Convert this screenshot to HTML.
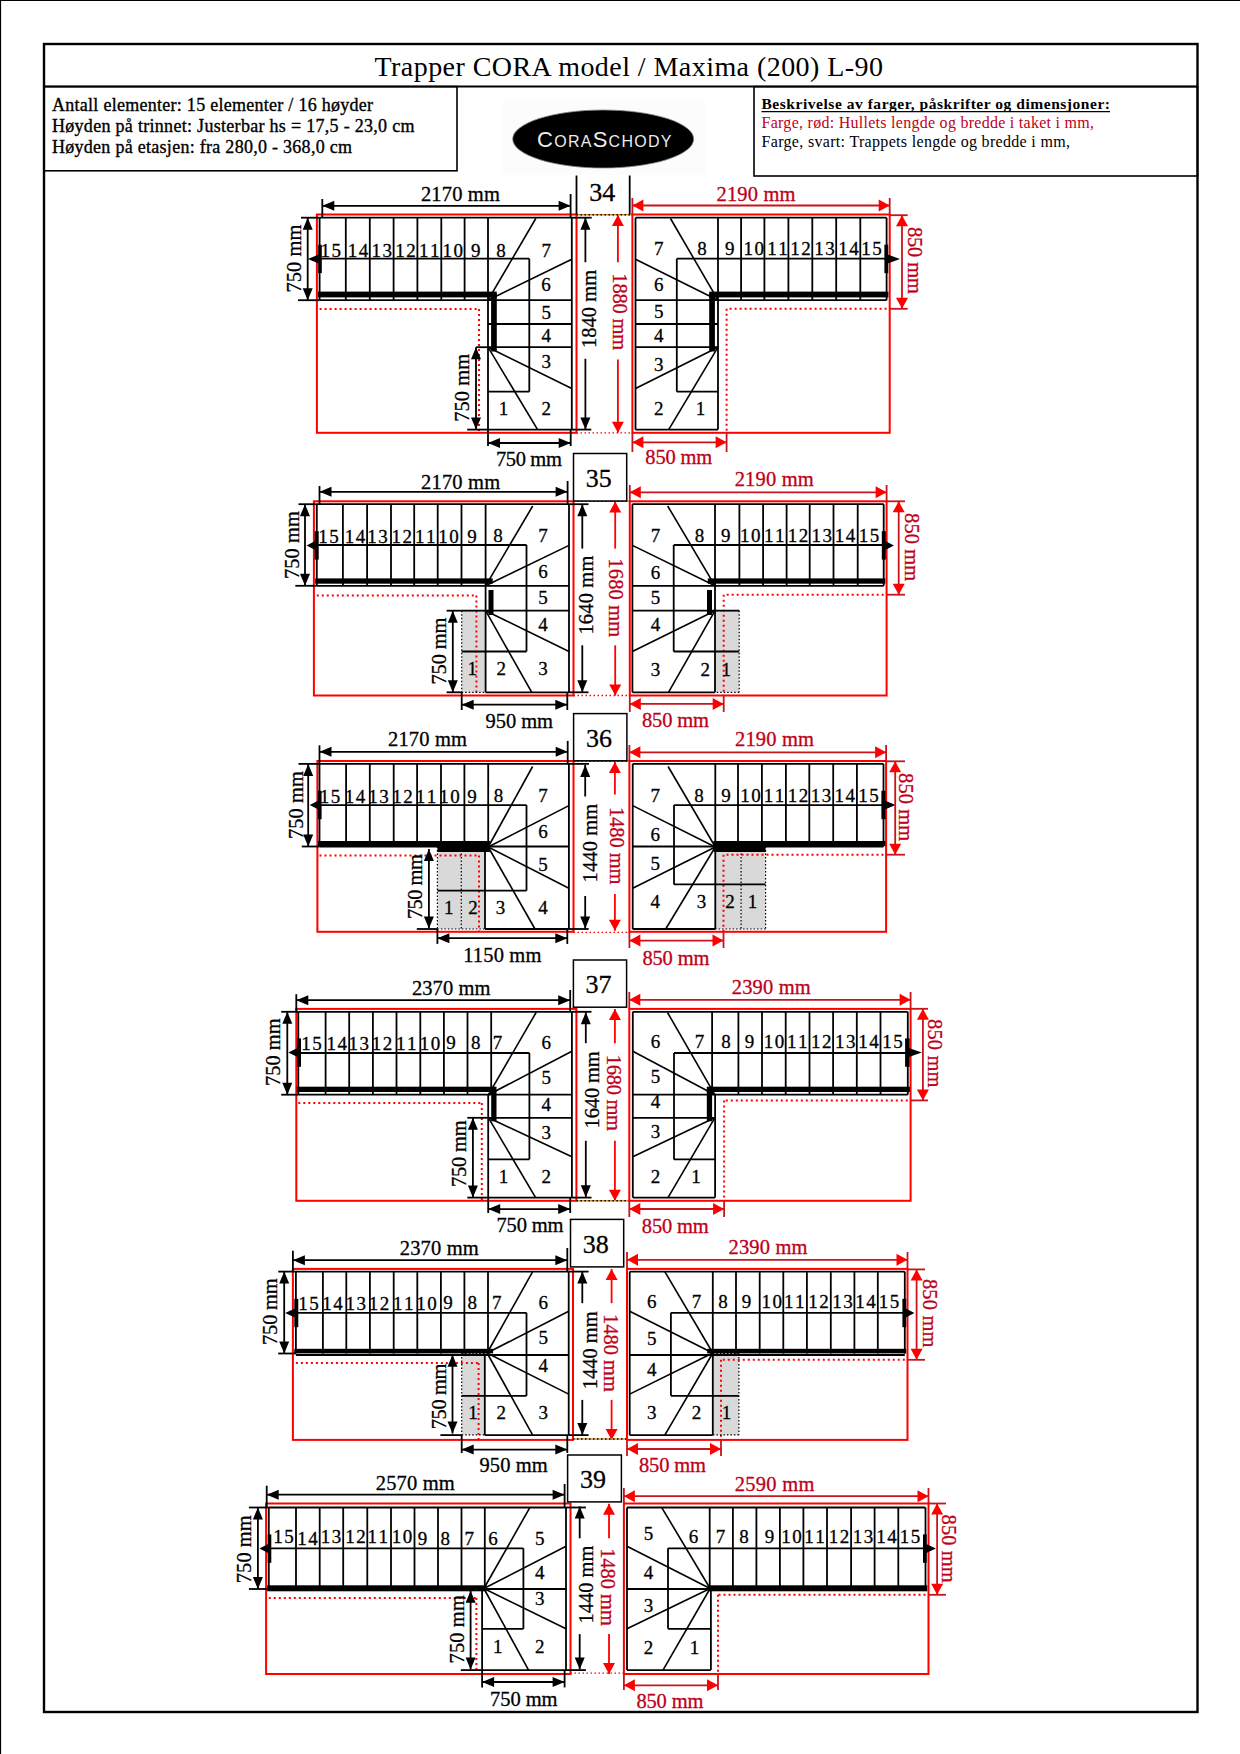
<!DOCTYPE html><html><head><meta charset="utf-8"><style>html,body{margin:0;padding:0;background:#fff}svg{display:block}</style></head><body><svg width="1240" height="1754" viewBox="0 0 1240 1754"><line x1="0.0" y1="0.5" x2="1240.0" y2="0.5" stroke="#000" stroke-width="1.2" stroke-linecap="butt"/>
<line x1="0.5" y1="0.0" x2="0.5" y2="1754.0" stroke="#000" stroke-width="1.2" stroke-linecap="butt"/>
<rect x="44" y="44" width="1153.5" height="1668" fill="none" stroke="#000" stroke-width="2.4"/>
<line x1="44.0" y1="86.6" x2="1197.5" y2="86.6" stroke="#000" stroke-width="2" stroke-linecap="butt"/>
<rect x="44" y="86.6" width="413" height="84.2" fill="none" stroke="#000" stroke-width="1.6"/>
<rect x="754" y="86.6" width="443.5" height="89.4" fill="none" stroke="#000" stroke-width="1.6"/>
<text x="374.5" y="76.0" font-family="Liberation Serif" font-size="28" fill="#000" text-anchor="start" font-weight="normal" textLength="508.5" lengthAdjust="spacing" >Trapper CORA model / Maxima (200) L-90</text>
<text x="52.0" y="110.7" font-family="Liberation Serif" font-size="18" fill="#000" text-anchor="start" font-weight="normal" textLength="321" lengthAdjust="spacing" stroke="#000" stroke-width="0.35">Antall elementer: 15 elementer / 16 høyder</text>
<text x="52.0" y="131.8" font-family="Liberation Serif" font-size="18" fill="#000" text-anchor="start" font-weight="normal" textLength="362.5" lengthAdjust="spacing" stroke="#000" stroke-width="0.35">Høyden på trinnet: Justerbar hs = 17,5 - 23,0 cm</text>
<text x="52.0" y="153.3" font-family="Liberation Serif" font-size="18" fill="#000" text-anchor="start" font-weight="normal" textLength="300" lengthAdjust="spacing" stroke="#000" stroke-width="0.35">Høyden på etasjen: fra 280,0 - 368,0 cm</text>
<text x="761.5" y="108.5" font-family="Liberation Serif" font-size="15.5" fill="#000" text-anchor="start" font-weight="bold" textLength="348.5" lengthAdjust="spacing">Beskrivelse av farger, påskrifter og dimensjoner:</text>
<line x1="761.5" y1="111.6" x2="1110.0" y2="111.6" stroke="#000" stroke-width="1.3" stroke-linecap="butt"/>
<text x="761.5" y="127.6" font-family="Liberation Serif" font-size="16" fill="#c00018" text-anchor="start" font-weight="normal" textLength="332.5" lengthAdjust="spacing" >Farge, rød: Hullets lengde og bredde i taket i mm,</text>
<text x="761.5" y="146.5" font-family="Liberation Serif" font-size="16" fill="#000" text-anchor="start" font-weight="normal" textLength="308.5" lengthAdjust="spacing" >Farge, svart: Trappets lengde og bredde i mm,</text>
<rect x="503" y="100.6" width="203" height="74" fill="#fcfcfc"/>
<ellipse cx="603.2" cy="139" rx="90.5" ry="29" fill="#000" stroke="#888" stroke-width="0.8"/>
<text x="537" y="147" font-family="Liberation Sans" font-size="16" fill="#ececec" text-anchor="start" textLength="134.5" lengthAdjust="spacing"><tspan font-size="22">C</tspan>ORA<tspan font-size="22">S</tspan>CHODY</text>
<rect x="316.9" y="214.5" width="259.6" height="218.3" fill="none" stroke="#ff0000" stroke-width="2"/>
<line x1="319.6" y1="309.0" x2="479.0" y2="309.0" stroke="#ff0000" stroke-width="2" stroke-dasharray="2,3" stroke-linecap="butt"/>
<line x1="479.0" y1="309.0" x2="479.0" y2="432.8" stroke="#ff0000" stroke-width="2" stroke-dasharray="2,3" stroke-linecap="butt"/>
<line x1="319.6" y1="217.7" x2="571.8" y2="217.7" stroke="#000" stroke-width="1.8" stroke-linecap="butt"/>
<line x1="319.6" y1="217.7" x2="319.6" y2="300.2" stroke="#000" stroke-width="1.8" stroke-linecap="butt"/>
<line x1="571.8" y1="217.7" x2="571.8" y2="429.6" stroke="#000" stroke-width="1.8" stroke-linecap="butt"/>
<line x1="319.6" y1="258.7" x2="529.3" y2="258.7" stroke="#000" stroke-width="1.8" stroke-linecap="butt"/>
<line x1="529.3" y1="258.7" x2="529.3" y2="391.7" stroke="#000" stroke-width="1.8" stroke-linecap="butt"/>
<line x1="345.8" y1="217.7" x2="345.8" y2="300.2" stroke="#000" stroke-width="1.8" stroke-linecap="butt"/>
<line x1="369.8" y1="217.7" x2="369.8" y2="300.2" stroke="#000" stroke-width="1.8" stroke-linecap="butt"/>
<line x1="393.6" y1="217.7" x2="393.6" y2="300.2" stroke="#000" stroke-width="1.8" stroke-linecap="butt"/>
<line x1="417.4" y1="217.7" x2="417.4" y2="300.2" stroke="#000" stroke-width="1.8" stroke-linecap="butt"/>
<line x1="441.3" y1="217.7" x2="441.3" y2="300.2" stroke="#000" stroke-width="1.8" stroke-linecap="butt"/>
<line x1="464.6" y1="217.7" x2="464.6" y2="300.2" stroke="#000" stroke-width="1.8" stroke-linecap="butt"/>
<line x1="488.0" y1="217.7" x2="488.0" y2="300.2" stroke="#000" stroke-width="1.8" stroke-linecap="butt"/>
<line x1="488.0" y1="300.2" x2="488.0" y2="429.6" stroke="#000" stroke-width="1.8" stroke-linecap="butt"/>
<line x1="319.6" y1="300.2" x2="571.8" y2="300.2" stroke="#000" stroke-width="1.8" stroke-linecap="butt"/>
<line x1="488.0" y1="324.0" x2="571.8" y2="324.0" stroke="#000" stroke-width="1.8" stroke-linecap="butt"/>
<line x1="488.0" y1="347.2" x2="571.8" y2="347.2" stroke="#000" stroke-width="1.8" stroke-linecap="butt"/>
<line x1="488.0" y1="429.6" x2="571.8" y2="429.6" stroke="#000" stroke-width="1.8" stroke-linecap="butt"/>
<line x1="488.0" y1="391.7" x2="529.3" y2="391.7" stroke="#000" stroke-width="1.8" stroke-linecap="butt"/>
<line x1="488.0" y1="300.2" x2="535.8" y2="218.5" stroke="#000" stroke-width="1.6" stroke-linecap="butt"/>
<line x1="488.0" y1="300.2" x2="571.8" y2="259.3" stroke="#000" stroke-width="1.6" stroke-linecap="butt"/>
<line x1="488.0" y1="347.2" x2="537.6" y2="429.6" stroke="#000" stroke-width="1.6" stroke-linecap="butt"/>
<line x1="488.0" y1="347.2" x2="571.8" y2="388.5" stroke="#000" stroke-width="1.6" stroke-linecap="butt"/>
<rect x="318.0" y="291.6" width="178.8" height="5.8" fill="#000"/>
<rect x="491.1" y="294.0" width="5.7" height="57.5" fill="#000"/>
<rect x="318.2" y="244.7" width="3.6" height="28.4" fill="#000"/>
<polygon points="307.9,258.9 318.7,254.4 318.7,263.4" fill="#000"/>
<text x="330.7" y="256.6" font-family="Liberation Serif" font-size="19" fill="#000" text-anchor="middle" font-weight="normal" textLength="20.5" lengthAdjust="spacing" stroke="#000" stroke-width="0.3">15</text>
<text x="358.0" y="256.6" font-family="Liberation Serif" font-size="19" fill="#000" text-anchor="middle" font-weight="normal" textLength="20.5" lengthAdjust="spacing" stroke="#000" stroke-width="0.3">14</text>
<text x="381.7" y="256.6" font-family="Liberation Serif" font-size="19" fill="#000" text-anchor="middle" font-weight="normal" textLength="20.5" lengthAdjust="spacing" stroke="#000" stroke-width="0.3">13</text>
<text x="405.5" y="256.6" font-family="Liberation Serif" font-size="19" fill="#000" text-anchor="middle" font-weight="normal" textLength="20.5" lengthAdjust="spacing" stroke="#000" stroke-width="0.3">12</text>
<text x="429.3" y="256.6" font-family="Liberation Serif" font-size="19" fill="#000" text-anchor="middle" font-weight="normal" textLength="20.5" lengthAdjust="spacing" stroke="#000" stroke-width="0.3">11</text>
<text x="452.8" y="256.6" font-family="Liberation Serif" font-size="19" fill="#000" text-anchor="middle" font-weight="normal" textLength="20.5" lengthAdjust="spacing" stroke="#000" stroke-width="0.3">10</text>
<text x="475.8" y="256.6" font-family="Liberation Serif" font-size="19" fill="#000" text-anchor="middle" font-weight="normal" stroke="#000" stroke-width="0.3">9</text>
<text x="501.0" y="256.6" font-family="Liberation Serif" font-size="19" fill="#000" text-anchor="middle" font-weight="normal" stroke="#000" stroke-width="0.3">8</text>
<text x="546.3" y="256.6" font-family="Liberation Serif" font-size="19" fill="#000" text-anchor="middle" font-weight="normal" stroke="#000" stroke-width="0.3">7</text>
<text x="546.0" y="291.4" font-family="Liberation Serif" font-size="19" fill="#000" text-anchor="middle" font-weight="normal" stroke="#000" stroke-width="0.3">6</text>
<text x="546.3" y="318.6" font-family="Liberation Serif" font-size="19" fill="#000" text-anchor="middle" font-weight="normal" stroke="#000" stroke-width="0.3">5</text>
<text x="546.3" y="342.4" font-family="Liberation Serif" font-size="19" fill="#000" text-anchor="middle" font-weight="normal" stroke="#000" stroke-width="0.3">4</text>
<text x="546.3" y="368.2" font-family="Liberation Serif" font-size="19" fill="#000" text-anchor="middle" font-weight="normal" stroke="#000" stroke-width="0.3">3</text>
<text x="546.3" y="415.4" font-family="Liberation Serif" font-size="19" fill="#000" text-anchor="middle" font-weight="normal" stroke="#000" stroke-width="0.3">2</text>
<text x="503.5" y="415.4" font-family="Liberation Serif" font-size="19" fill="#000" text-anchor="middle" font-weight="normal" stroke="#000" stroke-width="0.3">1</text>
<line x1="322.3" y1="205.8" x2="570.6" y2="205.8" stroke="#000" stroke-width="1.8" stroke-linecap="butt"/>
<polygon points="322.3,205.8 334.3,200.8 334.3,210.8" fill="#000"/>
<polygon points="570.6,205.8 558.6,200.8 558.6,210.8" fill="#000"/>
<line x1="322.3" y1="199.0" x2="322.3" y2="217.7" stroke="#000" stroke-width="1.8" stroke-linecap="butt"/>
<line x1="570.6" y1="194.0" x2="570.6" y2="217.7" stroke="#000" stroke-width="1.8" stroke-linecap="butt"/>
<text x="460.4" y="200.8" font-family="Liberation Serif" font-size="20.5" fill="#000" text-anchor="middle" font-weight="normal" textLength="79" lengthAdjust="spacing" stroke="#000" stroke-width="0.3">2170 mm</text>
<line x1="307.7" y1="217.7" x2="307.7" y2="300.2" stroke="#000" stroke-width="1.8" stroke-linecap="butt"/>
<polygon points="307.7,217.7 302.7,229.7 312.7,229.7" fill="#000"/>
<polygon points="307.7,300.2 302.7,288.2 312.7,288.2" fill="#000"/>
<line x1="301.0" y1="217.7" x2="319.6" y2="217.7" stroke="#000" stroke-width="1.8" stroke-linecap="butt"/>
<line x1="298.0" y1="300.2" x2="319.6" y2="300.2" stroke="#000" stroke-width="1.8" stroke-linecap="butt"/>
<text transform="translate(301.2,258.5) rotate(-90)" font-family="Liberation Serif" font-size="20.5" fill="#000" text-anchor="middle" font-weight="normal" textLength="68" lengthAdjust="spacing" stroke="#000" stroke-width="0.3">750 mm</text>
<line x1="476.0" y1="347.2" x2="476.0" y2="429.6" stroke="#000" stroke-width="1.8" stroke-linecap="butt"/>
<polygon points="476.0,347.2 471.0,359.2 481.0,359.2" fill="#000"/>
<polygon points="476.0,429.6 471.0,417.6 481.0,417.6" fill="#000"/>
<line x1="476.0" y1="347.2" x2="488.0" y2="347.2" stroke="#000" stroke-width="1.8" stroke-linecap="butt"/>
<line x1="467.2" y1="429.6" x2="488.0" y2="429.6" stroke="#000" stroke-width="1.8" stroke-linecap="butt"/>
<text transform="translate(469.4,387.8) rotate(-90)" font-family="Liberation Serif" font-size="20.5" fill="#000" text-anchor="middle" font-weight="normal" textLength="68" lengthAdjust="spacing" stroke="#000" stroke-width="0.3">750 mm</text>
<line x1="488.0" y1="443.0" x2="570.7" y2="443.0" stroke="#000" stroke-width="1.8" stroke-linecap="butt"/>
<polygon points="488.0,443.0 500.0,438.0 500.0,448.0" fill="#000"/>
<polygon points="570.7,443.0 558.7,438.0 558.7,448.0" fill="#000"/>
<line x1="488.0" y1="430.0" x2="488.0" y2="446.0" stroke="#000" stroke-width="1.8" stroke-linecap="butt"/>
<line x1="570.7" y1="430.0" x2="570.7" y2="446.0" stroke="#000" stroke-width="1.8" stroke-linecap="butt"/>
<text x="528.9" y="466.2" font-family="Liberation Serif" font-size="20.5" fill="#000" text-anchor="middle" font-weight="normal" textLength="66" lengthAdjust="spacing" stroke="#000" stroke-width="0.3">750 mm</text>
<line x1="585.4" y1="217.7" x2="585.4" y2="262.3" stroke="#000" stroke-width="1.8" stroke-linecap="butt"/>
<line x1="585.4" y1="358.8" x2="585.4" y2="429.6" stroke="#000" stroke-width="1.8" stroke-linecap="butt"/>
<polygon points="585.4,217.7 580.4,229.7 590.4,229.7" fill="#000"/>
<polygon points="585.4,429.6 580.4,417.6 590.4,417.6" fill="#000"/>
<line x1="571.8" y1="217.7" x2="591.7" y2="217.7" stroke="#000" stroke-width="1.8" stroke-linecap="butt"/>
<line x1="571.8" y1="429.6" x2="591.3" y2="429.6" stroke="#000" stroke-width="1.8" stroke-linecap="butt"/>
<text transform="translate(596.0,308.9) rotate(-90)" font-family="Liberation Serif" font-size="20.5" fill="#000" text-anchor="middle" font-weight="normal" textLength="78" lengthAdjust="spacing" stroke="#000" stroke-width="0.3">1840 mm</text>
<line x1="617.9" y1="215.0" x2="617.9" y2="262.3" stroke="#ff0000" stroke-width="1.8" stroke-linecap="butt"/>
<line x1="617.9" y1="359.5" x2="617.9" y2="432.8" stroke="#ff0000" stroke-width="1.8" stroke-linecap="butt"/>
<polygon points="617.9,215.0 611.9,226.0 623.9,226.0" fill="#ff0000"/>
<polygon points="617.9,432.8 611.9,421.8 623.9,421.8" fill="#ff0000"/>
<text transform="translate(613.1,311.8) rotate(90)" font-family="Liberation Serif" font-size="20.5" fill="#c00018" text-anchor="middle" font-weight="normal" textLength="77" lengthAdjust="spacing" stroke="#c00018" stroke-width="0.3">1880 mm</text>
<line x1="576.5" y1="175.5" x2="576.5" y2="214.7" stroke="#000" stroke-width="1.8" stroke-linecap="butt"/>
<line x1="629.7" y1="175.5" x2="629.7" y2="214.7" stroke="#000" stroke-width="1.8" stroke-linecap="butt"/>
<text x="602.2" y="200.6" font-family="Liberation Serif" font-size="26" fill="#000" text-anchor="middle" font-weight="normal" stroke="#000" stroke-width="0.3">34</text>
<line x1="576.5" y1="214.7" x2="632.4" y2="214.7" stroke="#d09040" stroke-width="1.6" stroke-linecap="butt"/>
<line x1="576.5" y1="214.7" x2="632.4" y2="214.7" stroke="#000" stroke-width="1.6" stroke-dasharray="1.5,2.5" stroke-linecap="butt"/>
<line x1="576.5" y1="432.8" x2="632.4" y2="432.8" stroke="#ff0000" stroke-width="1.3" stroke-dasharray="1.5,2.5" stroke-linecap="butt"/>
<rect x="632.4" y="214.5" width="257.3" height="218.3" fill="none" stroke="#ff0000" stroke-width="2"/>
<line x1="886.6" y1="308.8" x2="726.6" y2="308.8" stroke="#ff0000" stroke-width="2" stroke-dasharray="2,3" stroke-linecap="butt"/>
<line x1="726.6" y1="308.8" x2="726.6" y2="432.8" stroke="#ff0000" stroke-width="2" stroke-dasharray="2,3" stroke-linecap="butt"/>
<line x1="886.6" y1="217.7" x2="635.5" y2="217.7" stroke="#000" stroke-width="1.8" stroke-linecap="butt"/>
<line x1="886.6" y1="217.7" x2="886.6" y2="300.2" stroke="#000" stroke-width="1.8" stroke-linecap="butt"/>
<line x1="635.5" y1="217.7" x2="635.5" y2="429.6" stroke="#000" stroke-width="1.8" stroke-linecap="butt"/>
<line x1="886.6" y1="258.7" x2="676.8" y2="258.7" stroke="#000" stroke-width="1.8" stroke-linecap="butt"/>
<line x1="676.8" y1="258.7" x2="676.8" y2="391.7" stroke="#000" stroke-width="1.8" stroke-linecap="butt"/>
<line x1="860.3" y1="217.7" x2="860.3" y2="300.2" stroke="#000" stroke-width="1.8" stroke-linecap="butt"/>
<line x1="836.2" y1="217.7" x2="836.2" y2="300.2" stroke="#000" stroke-width="1.8" stroke-linecap="butt"/>
<line x1="812.3" y1="217.7" x2="812.3" y2="300.2" stroke="#000" stroke-width="1.8" stroke-linecap="butt"/>
<line x1="788.4" y1="217.7" x2="788.4" y2="300.2" stroke="#000" stroke-width="1.8" stroke-linecap="butt"/>
<line x1="764.4" y1="217.7" x2="764.4" y2="300.2" stroke="#000" stroke-width="1.8" stroke-linecap="butt"/>
<line x1="741.1" y1="217.7" x2="741.1" y2="300.2" stroke="#000" stroke-width="1.8" stroke-linecap="butt"/>
<line x1="718.0" y1="217.7" x2="718.0" y2="300.2" stroke="#000" stroke-width="1.8" stroke-linecap="butt"/>
<line x1="718.0" y1="300.2" x2="718.0" y2="429.6" stroke="#000" stroke-width="1.8" stroke-linecap="butt"/>
<line x1="886.6" y1="300.2" x2="635.5" y2="300.2" stroke="#000" stroke-width="1.8" stroke-linecap="butt"/>
<line x1="718.0" y1="324.0" x2="635.5" y2="324.0" stroke="#000" stroke-width="1.8" stroke-linecap="butt"/>
<line x1="718.0" y1="347.2" x2="635.5" y2="347.2" stroke="#000" stroke-width="1.8" stroke-linecap="butt"/>
<line x1="718.0" y1="429.6" x2="635.5" y2="429.6" stroke="#000" stroke-width="1.8" stroke-linecap="butt"/>
<line x1="718.0" y1="391.7" x2="676.8" y2="391.7" stroke="#000" stroke-width="1.8" stroke-linecap="butt"/>
<line x1="718.0" y1="300.2" x2="670.5" y2="218.5" stroke="#000" stroke-width="1.6" stroke-linecap="butt"/>
<line x1="718.0" y1="300.2" x2="635.5" y2="259.3" stroke="#000" stroke-width="1.6" stroke-linecap="butt"/>
<line x1="718.0" y1="347.2" x2="668.7" y2="429.6" stroke="#000" stroke-width="1.6" stroke-linecap="butt"/>
<line x1="718.0" y1="347.2" x2="635.5" y2="388.5" stroke="#000" stroke-width="1.6" stroke-linecap="butt"/>
<rect x="709.2" y="291.6" width="179.2" height="5.8" fill="#000"/>
<rect x="709.2" y="294.0" width="5.7" height="57.5" fill="#000"/>
<rect x="884.4" y="244.7" width="3.8" height="28.4" fill="#000"/>
<polygon points="900.0,258.9 887.6,254.4 887.6,263.4" fill="#000"/>
<text x="658.7" y="255.2" font-family="Liberation Serif" font-size="19" fill="#000" text-anchor="middle" font-weight="normal" stroke="#000" stroke-width="0.3">7</text>
<text x="702.1" y="255.2" font-family="Liberation Serif" font-size="19" fill="#000" text-anchor="middle" font-weight="normal" stroke="#000" stroke-width="0.3">8</text>
<text x="729.7" y="255.2" font-family="Liberation Serif" font-size="19" fill="#000" text-anchor="middle" font-weight="normal" stroke="#000" stroke-width="0.3">9</text>
<text x="753.7" y="255.2" font-family="Liberation Serif" font-size="19" fill="#000" text-anchor="middle" font-weight="normal" textLength="20.5" lengthAdjust="spacing" stroke="#000" stroke-width="0.3">10</text>
<text x="777.4" y="255.2" font-family="Liberation Serif" font-size="19" fill="#000" text-anchor="middle" font-weight="normal" textLength="20.5" lengthAdjust="spacing" stroke="#000" stroke-width="0.3">11</text>
<text x="800.6" y="255.2" font-family="Liberation Serif" font-size="19" fill="#000" text-anchor="middle" font-weight="normal" textLength="20.5" lengthAdjust="spacing" stroke="#000" stroke-width="0.3">12</text>
<text x="824.6" y="255.2" font-family="Liberation Serif" font-size="19" fill="#000" text-anchor="middle" font-weight="normal" textLength="20.5" lengthAdjust="spacing" stroke="#000" stroke-width="0.3">13</text>
<text x="848.4" y="255.2" font-family="Liberation Serif" font-size="19" fill="#000" text-anchor="middle" font-weight="normal" textLength="20.5" lengthAdjust="spacing" stroke="#000" stroke-width="0.3">14</text>
<text x="871.6" y="255.2" font-family="Liberation Serif" font-size="19" fill="#000" text-anchor="middle" font-weight="normal" textLength="20.5" lengthAdjust="spacing" stroke="#000" stroke-width="0.3">15</text>
<text x="658.7" y="290.8" font-family="Liberation Serif" font-size="19" fill="#000" text-anchor="middle" font-weight="normal" stroke="#000" stroke-width="0.3">6</text>
<text x="658.7" y="317.6" font-family="Liberation Serif" font-size="19" fill="#000" text-anchor="middle" font-weight="normal" stroke="#000" stroke-width="0.3">5</text>
<text x="658.7" y="341.6" font-family="Liberation Serif" font-size="19" fill="#000" text-anchor="middle" font-weight="normal" stroke="#000" stroke-width="0.3">4</text>
<text x="658.7" y="370.8" font-family="Liberation Serif" font-size="19" fill="#000" text-anchor="middle" font-weight="normal" stroke="#000" stroke-width="0.3">3</text>
<text x="658.7" y="414.6" font-family="Liberation Serif" font-size="19" fill="#000" text-anchor="middle" font-weight="normal" stroke="#000" stroke-width="0.3">2</text>
<text x="700.5" y="414.6" font-family="Liberation Serif" font-size="19" fill="#000" text-anchor="middle" font-weight="normal" stroke="#000" stroke-width="0.3">1</text>
<line x1="632.4" y1="205.5" x2="889.7" y2="205.5" stroke="#c8141e" stroke-width="1.8" stroke-linecap="butt"/>
<polygon points="632.4,205.5 643.4,199.5 643.4,211.5" fill="#ff0000"/>
<polygon points="889.7,205.5 878.7,199.5 878.7,211.5" fill="#ff0000"/>
<line x1="632.4" y1="198.0" x2="632.4" y2="215.2" stroke="#c8141e" stroke-width="1.8" stroke-linecap="butt"/>
<line x1="889.7" y1="198.0" x2="889.7" y2="215.2" stroke="#c8141e" stroke-width="1.8" stroke-linecap="butt"/>
<text x="756.0" y="201.0" font-family="Liberation Serif" font-size="20.5" fill="#c00018" text-anchor="middle" font-weight="normal" textLength="79" lengthAdjust="spacing" stroke="#c00018" stroke-width="0.3">2190 mm</text>
<line x1="902.0" y1="215.2" x2="902.0" y2="308.8" stroke="#c8141e" stroke-width="1.8" stroke-linecap="butt"/>
<polygon points="902.0,215.2 896.0,226.2 908.0,226.2" fill="#ff0000"/>
<polygon points="902.0,308.8 896.0,297.8 908.0,297.8" fill="#ff0000"/>
<line x1="889.7" y1="215.2" x2="907.7" y2="215.2" stroke="#c8141e" stroke-width="1.8" stroke-linecap="butt"/>
<line x1="889.7" y1="308.8" x2="907.7" y2="308.8" stroke="#c8141e" stroke-width="1.8" stroke-linecap="butt"/>
<text transform="translate(907.7,260.4) rotate(90)" font-family="Liberation Serif" font-size="20.5" fill="#c00018" text-anchor="middle" font-weight="normal" textLength="67" lengthAdjust="spacing" stroke="#c00018" stroke-width="0.3">850 mm</text>
<line x1="632.4" y1="442.3" x2="726.6" y2="442.3" stroke="#c8141e" stroke-width="1.8" stroke-linecap="butt"/>
<polygon points="632.4,442.3 643.4,436.3 643.4,448.3" fill="#ff0000"/>
<polygon points="726.6,442.3 715.6,436.3 715.6,448.3" fill="#ff0000"/>
<line x1="632.4" y1="432.7" x2="632.4" y2="452.0" stroke="#c8141e" stroke-width="1.8" stroke-linecap="butt"/>
<line x1="726.6" y1="432.7" x2="726.6" y2="452.0" stroke="#c8141e" stroke-width="1.8" stroke-linecap="butt"/>
<text x="678.8" y="464.2" font-family="Liberation Serif" font-size="20.5" fill="#c00018" text-anchor="middle" font-weight="normal" textLength="67" lengthAdjust="spacing" stroke="#c00018" stroke-width="0.3">850 mm</text>
<rect x="461.7" y="610.7" width="23.9" height="81.6" fill="#d9d9d9"/>
<rect x="313.9" y="501.3" width="259.6" height="194.2" fill="none" stroke="#ff0000" stroke-width="2"/>
<line x1="316.8" y1="595.5" x2="476.4" y2="595.5" stroke="#ff0000" stroke-width="2" stroke-dasharray="2,3" stroke-linecap="butt"/>
<line x1="476.4" y1="595.5" x2="476.4" y2="695.5" stroke="#ff0000" stroke-width="2" stroke-dasharray="2,3" stroke-linecap="butt"/>
<line x1="316.8" y1="504.2" x2="569.0" y2="504.2" stroke="#000" stroke-width="1.8" stroke-linecap="butt"/>
<line x1="316.8" y1="504.2" x2="316.8" y2="585.8" stroke="#000" stroke-width="1.8" stroke-linecap="butt"/>
<line x1="569.0" y1="504.2" x2="569.0" y2="692.3" stroke="#000" stroke-width="1.8" stroke-linecap="butt"/>
<line x1="316.8" y1="545.0" x2="526.5" y2="545.0" stroke="#000" stroke-width="1.8" stroke-linecap="butt"/>
<line x1="526.5" y1="545.0" x2="526.5" y2="651.5" stroke="#000" stroke-width="1.8" stroke-linecap="butt"/>
<line x1="342.9" y1="504.2" x2="342.9" y2="585.8" stroke="#000" stroke-width="1.8" stroke-linecap="butt"/>
<line x1="367.1" y1="504.2" x2="367.1" y2="585.8" stroke="#000" stroke-width="1.8" stroke-linecap="butt"/>
<line x1="391.0" y1="504.2" x2="391.0" y2="585.8" stroke="#000" stroke-width="1.8" stroke-linecap="butt"/>
<line x1="414.2" y1="504.2" x2="414.2" y2="585.8" stroke="#000" stroke-width="1.8" stroke-linecap="butt"/>
<line x1="437.7" y1="504.2" x2="437.7" y2="585.8" stroke="#000" stroke-width="1.8" stroke-linecap="butt"/>
<line x1="461.5" y1="504.2" x2="461.5" y2="585.8" stroke="#000" stroke-width="1.8" stroke-linecap="butt"/>
<line x1="485.6" y1="504.2" x2="485.6" y2="585.8" stroke="#000" stroke-width="1.8" stroke-linecap="butt"/>
<line x1="485.6" y1="585.8" x2="485.6" y2="692.3" stroke="#000" stroke-width="1.8" stroke-linecap="butt"/>
<line x1="316.8" y1="585.8" x2="569.0" y2="585.8" stroke="#000" stroke-width="1.8" stroke-linecap="butt"/>
<line x1="461.7" y1="610.7" x2="569.0" y2="610.7" stroke="#000" stroke-width="1.8" stroke-linecap="butt"/>
<line x1="485.6" y1="692.3" x2="569.0" y2="692.3" stroke="#000" stroke-width="1.8" stroke-linecap="butt"/>
<line x1="461.7" y1="651.5" x2="526.5" y2="651.5" stroke="#000" stroke-width="1.8" stroke-linecap="butt"/>
<line x1="485.6" y1="585.8" x2="532.7" y2="506.0" stroke="#000" stroke-width="1.6" stroke-linecap="butt"/>
<line x1="485.6" y1="585.8" x2="569.0" y2="545.4" stroke="#000" stroke-width="1.6" stroke-linecap="butt"/>
<line x1="485.6" y1="610.7" x2="531.8" y2="692.3" stroke="#000" stroke-width="1.6" stroke-linecap="butt"/>
<line x1="485.6" y1="610.7" x2="569.0" y2="651.5" stroke="#000" stroke-width="1.6" stroke-linecap="butt"/>
<line x1="461.7" y1="610.7" x2="485.6" y2="610.7" stroke="#000" stroke-width="1.2" stroke-dasharray="1.5,2" stroke-linecap="butt"/>
<line x1="461.7" y1="692.3" x2="485.6" y2="692.3" stroke="#000" stroke-width="1.2" stroke-dasharray="1.5,2" stroke-linecap="butt"/>
<line x1="461.7" y1="610.7" x2="461.7" y2="692.3" stroke="#000" stroke-width="1.2" stroke-dasharray="1.5,2" stroke-linecap="butt"/>
<rect x="315.2" y="578.4" width="177.5" height="5.3" fill="#000"/>
<rect x="488.5" y="590.0" width="5.0" height="25.0" fill="#000"/>
<rect x="314.7" y="531.2" width="4.0" height="28.4" fill="#000"/>
<polygon points="306.6,545.4 315.2,540.9 315.2,549.9" fill="#000"/>
<text x="328.4" y="542.6" font-family="Liberation Serif" font-size="19" fill="#000" text-anchor="middle" font-weight="normal" textLength="20.5" lengthAdjust="spacing" stroke="#000" stroke-width="0.3">15</text>
<text x="355.0" y="542.6" font-family="Liberation Serif" font-size="19" fill="#000" text-anchor="middle" font-weight="normal" textLength="20.5" lengthAdjust="spacing" stroke="#000" stroke-width="0.3">14</text>
<text x="377.6" y="542.6" font-family="Liberation Serif" font-size="19" fill="#000" text-anchor="middle" font-weight="normal" textLength="20.5" lengthAdjust="spacing" stroke="#000" stroke-width="0.3">13</text>
<text x="401.8" y="542.6" font-family="Liberation Serif" font-size="19" fill="#000" text-anchor="middle" font-weight="normal" textLength="20.5" lengthAdjust="spacing" stroke="#000" stroke-width="0.3">12</text>
<text x="425.2" y="542.6" font-family="Liberation Serif" font-size="19" fill="#000" text-anchor="middle" font-weight="normal" textLength="20.5" lengthAdjust="spacing" stroke="#000" stroke-width="0.3">11</text>
<text x="448.5" y="542.6" font-family="Liberation Serif" font-size="19" fill="#000" text-anchor="middle" font-weight="normal" textLength="20.5" lengthAdjust="spacing" stroke="#000" stroke-width="0.3">10</text>
<text x="472.0" y="542.6" font-family="Liberation Serif" font-size="19" fill="#000" text-anchor="middle" font-weight="normal" stroke="#000" stroke-width="0.3">9</text>
<text x="498.1" y="542.3" font-family="Liberation Serif" font-size="19" fill="#000" text-anchor="middle" font-weight="normal" stroke="#000" stroke-width="0.3">8</text>
<text x="543.0" y="542.3" font-family="Liberation Serif" font-size="19" fill="#000" text-anchor="middle" font-weight="normal" stroke="#000" stroke-width="0.3">7</text>
<text x="543.0" y="577.8" font-family="Liberation Serif" font-size="19" fill="#000" text-anchor="middle" font-weight="normal" stroke="#000" stroke-width="0.3">6</text>
<text x="543.0" y="603.6" font-family="Liberation Serif" font-size="19" fill="#000" text-anchor="middle" font-weight="normal" stroke="#000" stroke-width="0.3">5</text>
<text x="543.0" y="631.0" font-family="Liberation Serif" font-size="19" fill="#000" text-anchor="middle" font-weight="normal" stroke="#000" stroke-width="0.3">4</text>
<text x="543.0" y="674.5" font-family="Liberation Serif" font-size="19" fill="#000" text-anchor="middle" font-weight="normal" stroke="#000" stroke-width="0.3">3</text>
<text x="501.3" y="674.5" font-family="Liberation Serif" font-size="19" fill="#000" text-anchor="middle" font-weight="normal" stroke="#000" stroke-width="0.3">2</text>
<text x="472.3" y="674.5" font-family="Liberation Serif" font-size="19" fill="#000" text-anchor="middle" font-weight="normal" stroke="#000" stroke-width="0.3">1</text>
<line x1="319.5" y1="491.8" x2="567.6" y2="491.8" stroke="#000" stroke-width="1.8" stroke-linecap="butt"/>
<polygon points="319.5,491.8 331.5,486.8 331.5,496.8" fill="#000"/>
<polygon points="567.6,491.8 555.6,486.8 555.6,496.8" fill="#000"/>
<line x1="319.5" y1="486.0" x2="319.5" y2="504.2" stroke="#000" stroke-width="1.8" stroke-linecap="butt"/>
<line x1="567.6" y1="481.0" x2="567.6" y2="504.2" stroke="#000" stroke-width="1.8" stroke-linecap="butt"/>
<text x="460.6" y="489.4" font-family="Liberation Serif" font-size="20.5" fill="#000" text-anchor="middle" font-weight="normal" textLength="79" lengthAdjust="spacing" stroke="#000" stroke-width="0.3">2170 mm</text>
<line x1="305.0" y1="504.2" x2="305.0" y2="585.8" stroke="#000" stroke-width="1.8" stroke-linecap="butt"/>
<polygon points="305.0,504.2 300.0,516.2 310.0,516.2" fill="#000"/>
<polygon points="305.0,585.8 300.0,573.8 310.0,573.8" fill="#000"/>
<line x1="298.5" y1="504.2" x2="316.8" y2="504.2" stroke="#000" stroke-width="1.8" stroke-linecap="butt"/>
<line x1="295.3" y1="585.8" x2="316.8" y2="585.8" stroke="#000" stroke-width="1.8" stroke-linecap="butt"/>
<text transform="translate(298.5,545.0) rotate(-90)" font-family="Liberation Serif" font-size="20.5" fill="#000" text-anchor="middle" font-weight="normal" textLength="68" lengthAdjust="spacing" stroke="#000" stroke-width="0.3">750 mm</text>
<line x1="452.8" y1="610.7" x2="452.8" y2="692.3" stroke="#000" stroke-width="1.8" stroke-linecap="butt"/>
<polygon points="452.8,610.7 447.8,622.7 457.8,622.7" fill="#000"/>
<polygon points="452.8,692.3 447.8,680.3 457.8,680.3" fill="#000"/>
<line x1="446.6" y1="610.7" x2="461.7" y2="610.7" stroke="#000" stroke-width="1.8" stroke-linecap="butt"/>
<line x1="446.6" y1="692.3" x2="461.7" y2="692.3" stroke="#000" stroke-width="1.8" stroke-linecap="butt"/>
<text transform="translate(445.7,651.0) rotate(-90)" font-family="Liberation Serif" font-size="20.5" fill="#000" text-anchor="middle" font-weight="normal" textLength="67" lengthAdjust="spacing" stroke="#000" stroke-width="0.3">750 mm</text>
<line x1="461.7" y1="704.7" x2="567.3" y2="704.7" stroke="#000" stroke-width="1.8" stroke-linecap="butt"/>
<polygon points="461.7,704.7 473.7,699.7 473.7,709.7" fill="#000"/>
<polygon points="567.3,704.7 555.3,699.7 555.3,709.7" fill="#000"/>
<line x1="461.7" y1="692.3" x2="461.7" y2="710.0" stroke="#000" stroke-width="1.8" stroke-linecap="butt"/>
<line x1="567.3" y1="692.3" x2="567.3" y2="710.0" stroke="#000" stroke-width="1.8" stroke-linecap="butt"/>
<text x="519.3" y="727.8" font-family="Liberation Serif" font-size="20.5" fill="#000" text-anchor="middle" font-weight="normal" textLength="67.4" lengthAdjust="spacing" stroke="#000" stroke-width="0.3">950 mm</text>
<line x1="582.3" y1="504.2" x2="582.3" y2="548.6" stroke="#000" stroke-width="1.8" stroke-linecap="butt"/>
<line x1="582.3" y1="645.3" x2="582.3" y2="692.3" stroke="#000" stroke-width="1.8" stroke-linecap="butt"/>
<polygon points="582.3,504.2 577.3,516.2 587.3,516.2" fill="#000"/>
<polygon points="582.3,692.3 577.3,680.3 587.3,680.3" fill="#000"/>
<line x1="569.0" y1="504.2" x2="588.5" y2="504.2" stroke="#000" stroke-width="1.8" stroke-linecap="butt"/>
<line x1="569.0" y1="692.3" x2="588.5" y2="692.3" stroke="#000" stroke-width="1.8" stroke-linecap="butt"/>
<text transform="translate(593.0,595.1) rotate(-90)" font-family="Liberation Serif" font-size="20.5" fill="#000" text-anchor="middle" font-weight="normal" textLength="79" lengthAdjust="spacing" stroke="#000" stroke-width="0.3">1640 mm</text>
<line x1="615.2" y1="501.5" x2="615.2" y2="548.6" stroke="#ff0000" stroke-width="1.8" stroke-linecap="butt"/>
<line x1="615.2" y1="645.3" x2="615.2" y2="695.5" stroke="#ff0000" stroke-width="1.8" stroke-linecap="butt"/>
<polygon points="615.2,501.5 609.2,512.5 621.2,512.5" fill="#ff0000"/>
<polygon points="615.2,695.5 609.2,684.5 621.2,684.5" fill="#ff0000"/>
<text transform="translate(609.0,597.8) rotate(90)" font-family="Liberation Serif" font-size="20.5" fill="#c00018" text-anchor="middle" font-weight="normal" textLength="79" lengthAdjust="spacing" stroke="#c00018" stroke-width="0.3">1680 mm</text>
<line x1="573.5" y1="501.0" x2="630.0" y2="501.0" stroke="#d09040" stroke-width="1.6" stroke-linecap="butt"/>
<line x1="573.5" y1="501.0" x2="630.0" y2="501.0" stroke="#000" stroke-width="1.6" stroke-dasharray="1.5,2.5" stroke-linecap="butt"/>
<rect x="573.5" y="453.5" width="53.2" height="47.5" fill="#fff" stroke="#000" stroke-width="1.5"/>
<text x="598.8" y="487.2" font-family="Liberation Serif" font-size="26" fill="#000" text-anchor="middle" font-weight="normal" stroke="#000" stroke-width="0.3">35</text>
<line x1="573.5" y1="695.5" x2="630.0" y2="695.5" stroke="#ff0000" stroke-width="1.3" stroke-dasharray="1.5,2.5" stroke-linecap="butt"/>
<rect x="715.0" y="610.7" width="24.2" height="81.6" fill="#d9d9d9"/>
<rect x="629.8" y="501.3" width="256.8" height="194.2" fill="none" stroke="#ff0000" stroke-width="2"/>
<line x1="883.7" y1="594.7" x2="723.7" y2="594.7" stroke="#ff0000" stroke-width="2" stroke-dasharray="2,3" stroke-linecap="butt"/>
<line x1="723.7" y1="594.7" x2="723.7" y2="695.5" stroke="#ff0000" stroke-width="2" stroke-dasharray="2,3" stroke-linecap="butt"/>
<line x1="883.7" y1="504.2" x2="632.4" y2="504.2" stroke="#000" stroke-width="1.8" stroke-linecap="butt"/>
<line x1="883.7" y1="504.2" x2="883.7" y2="585.8" stroke="#000" stroke-width="1.8" stroke-linecap="butt"/>
<line x1="632.4" y1="504.2" x2="632.4" y2="692.3" stroke="#000" stroke-width="1.8" stroke-linecap="butt"/>
<line x1="883.7" y1="545.0" x2="673.7" y2="545.0" stroke="#000" stroke-width="1.8" stroke-linecap="butt"/>
<line x1="673.7" y1="545.0" x2="673.7" y2="651.5" stroke="#000" stroke-width="1.8" stroke-linecap="butt"/>
<line x1="857.7" y1="504.2" x2="857.7" y2="585.8" stroke="#000" stroke-width="1.8" stroke-linecap="butt"/>
<line x1="833.5" y1="504.2" x2="833.5" y2="585.8" stroke="#000" stroke-width="1.8" stroke-linecap="butt"/>
<line x1="809.7" y1="504.2" x2="809.7" y2="585.8" stroke="#000" stroke-width="1.8" stroke-linecap="butt"/>
<line x1="786.6" y1="504.2" x2="786.6" y2="585.8" stroke="#000" stroke-width="1.8" stroke-linecap="butt"/>
<line x1="763.1" y1="504.2" x2="763.1" y2="585.8" stroke="#000" stroke-width="1.8" stroke-linecap="butt"/>
<line x1="739.4" y1="504.2" x2="739.4" y2="585.8" stroke="#000" stroke-width="1.8" stroke-linecap="butt"/>
<line x1="715.0" y1="504.2" x2="715.0" y2="585.8" stroke="#000" stroke-width="1.8" stroke-linecap="butt"/>
<line x1="715.0" y1="585.8" x2="715.0" y2="692.3" stroke="#000" stroke-width="1.8" stroke-linecap="butt"/>
<line x1="883.7" y1="585.8" x2="632.4" y2="585.8" stroke="#000" stroke-width="1.8" stroke-linecap="butt"/>
<line x1="739.2" y1="610.7" x2="632.4" y2="610.7" stroke="#000" stroke-width="1.8" stroke-linecap="butt"/>
<line x1="715.0" y1="692.3" x2="632.4" y2="692.3" stroke="#000" stroke-width="1.8" stroke-linecap="butt"/>
<line x1="739.2" y1="651.5" x2="673.7" y2="651.5" stroke="#000" stroke-width="1.8" stroke-linecap="butt"/>
<line x1="715.0" y1="585.8" x2="667.7" y2="506.0" stroke="#000" stroke-width="1.6" stroke-linecap="butt"/>
<line x1="715.0" y1="585.8" x2="632.4" y2="545.4" stroke="#000" stroke-width="1.6" stroke-linecap="butt"/>
<line x1="715.0" y1="610.7" x2="668.5" y2="692.3" stroke="#000" stroke-width="1.6" stroke-linecap="butt"/>
<line x1="715.0" y1="610.7" x2="632.4" y2="651.5" stroke="#000" stroke-width="1.6" stroke-linecap="butt"/>
<line x1="739.2" y1="610.7" x2="715.0" y2="610.7" stroke="#000" stroke-width="1.2" stroke-dasharray="1.5,2" stroke-linecap="butt"/>
<line x1="739.2" y1="692.3" x2="715.0" y2="692.3" stroke="#000" stroke-width="1.2" stroke-dasharray="1.5,2" stroke-linecap="butt"/>
<line x1="739.2" y1="610.7" x2="739.2" y2="692.3" stroke="#000" stroke-width="1.2" stroke-dasharray="1.5,2" stroke-linecap="butt"/>
<rect x="707.8" y="578.4" width="177.5" height="5.3" fill="#000"/>
<rect x="707.0" y="590.0" width="5.0" height="25.0" fill="#000"/>
<rect x="881.8" y="531.2" width="4.0" height="28.4" fill="#000"/>
<polygon points="893.9,545.4 885.3,540.9 885.3,549.9" fill="#000"/>
<text x="655.6" y="542.1" font-family="Liberation Serif" font-size="19" fill="#000" text-anchor="middle" font-weight="normal" stroke="#000" stroke-width="0.3">7</text>
<text x="699.5" y="542.1" font-family="Liberation Serif" font-size="19" fill="#000" text-anchor="middle" font-weight="normal" stroke="#000" stroke-width="0.3">8</text>
<text x="725.8" y="542.1" font-family="Liberation Serif" font-size="19" fill="#000" text-anchor="middle" font-weight="normal" stroke="#000" stroke-width="0.3">9</text>
<text x="750.3" y="542.1" font-family="Liberation Serif" font-size="19" fill="#000" text-anchor="middle" font-weight="normal" textLength="20.5" lengthAdjust="spacing" stroke="#000" stroke-width="0.3">10</text>
<text x="774.3" y="542.1" font-family="Liberation Serif" font-size="19" fill="#000" text-anchor="middle" font-weight="normal" textLength="20.5" lengthAdjust="spacing" stroke="#000" stroke-width="0.3">11</text>
<text x="798.1" y="542.1" font-family="Liberation Serif" font-size="19" fill="#000" text-anchor="middle" font-weight="normal" textLength="20.5" lengthAdjust="spacing" stroke="#000" stroke-width="0.3">12</text>
<text x="821.8" y="542.1" font-family="Liberation Serif" font-size="19" fill="#000" text-anchor="middle" font-weight="normal" textLength="20.5" lengthAdjust="spacing" stroke="#000" stroke-width="0.3">13</text>
<text x="845.0" y="542.1" font-family="Liberation Serif" font-size="19" fill="#000" text-anchor="middle" font-weight="normal" textLength="20.5" lengthAdjust="spacing" stroke="#000" stroke-width="0.3">14</text>
<text x="869.0" y="542.1" font-family="Liberation Serif" font-size="19" fill="#000" text-anchor="middle" font-weight="normal" textLength="20.5" lengthAdjust="spacing" stroke="#000" stroke-width="0.3">15</text>
<text x="655.6" y="578.7" font-family="Liberation Serif" font-size="19" fill="#000" text-anchor="middle" font-weight="normal" stroke="#000" stroke-width="0.3">6</text>
<text x="655.6" y="604.0" font-family="Liberation Serif" font-size="19" fill="#000" text-anchor="middle" font-weight="normal" stroke="#000" stroke-width="0.3">5</text>
<text x="655.6" y="630.8" font-family="Liberation Serif" font-size="19" fill="#000" text-anchor="middle" font-weight="normal" stroke="#000" stroke-width="0.3">4</text>
<text x="655.6" y="675.5" font-family="Liberation Serif" font-size="19" fill="#000" text-anchor="middle" font-weight="normal" stroke="#000" stroke-width="0.3">3</text>
<text x="705.2" y="675.5" font-family="Liberation Serif" font-size="19" fill="#000" text-anchor="middle" font-weight="normal" stroke="#000" stroke-width="0.3">2</text>
<text x="726.3" y="675.5" font-family="Liberation Serif" font-size="19" fill="#000" text-anchor="middle" font-weight="normal" stroke="#000" stroke-width="0.3">1</text>
<line x1="629.8" y1="492.3" x2="886.6" y2="492.3" stroke="#c8141e" stroke-width="1.8" stroke-linecap="butt"/>
<polygon points="629.8,492.3 640.8,486.3 640.8,498.3" fill="#ff0000"/>
<polygon points="886.6,492.3 875.6,486.3 875.6,498.3" fill="#ff0000"/>
<line x1="629.8" y1="485.0" x2="629.8" y2="501.3" stroke="#c8141e" stroke-width="1.8" stroke-linecap="butt"/>
<line x1="886.6" y1="485.0" x2="886.6" y2="501.3" stroke="#c8141e" stroke-width="1.8" stroke-linecap="butt"/>
<text x="774.2" y="486.3" font-family="Liberation Serif" font-size="20.5" fill="#c00018" text-anchor="middle" font-weight="normal" textLength="79" lengthAdjust="spacing" stroke="#c00018" stroke-width="0.3">2190 mm</text>
<line x1="898.7" y1="501.3" x2="898.7" y2="594.7" stroke="#c8141e" stroke-width="1.8" stroke-linecap="butt"/>
<polygon points="898.7,501.3 892.7,512.3 904.7,512.3" fill="#ff0000"/>
<polygon points="898.7,594.7 892.7,583.7 904.7,583.7" fill="#ff0000"/>
<line x1="886.6" y1="501.3" x2="905.0" y2="501.3" stroke="#c8141e" stroke-width="1.8" stroke-linecap="butt"/>
<line x1="886.6" y1="594.7" x2="905.0" y2="594.7" stroke="#c8141e" stroke-width="1.8" stroke-linecap="butt"/>
<text transform="translate(905.2,547.1) rotate(90)" font-family="Liberation Serif" font-size="20.5" fill="#c00018" text-anchor="middle" font-weight="normal" textLength="68" lengthAdjust="spacing" stroke="#c00018" stroke-width="0.3">850 mm</text>
<line x1="629.8" y1="703.9" x2="723.7" y2="703.9" stroke="#c8141e" stroke-width="1.8" stroke-linecap="butt"/>
<polygon points="629.8,703.9 640.8,697.9 640.8,709.9" fill="#ff0000"/>
<polygon points="723.7,703.9 712.7,697.9 712.7,709.9" fill="#ff0000"/>
<line x1="629.8" y1="695.4" x2="629.8" y2="712.0" stroke="#c8141e" stroke-width="1.8" stroke-linecap="butt"/>
<line x1="723.7" y1="695.4" x2="723.7" y2="712.0" stroke="#c8141e" stroke-width="1.8" stroke-linecap="butt"/>
<text x="675.5" y="727.0" font-family="Liberation Serif" font-size="20.5" fill="#c00018" text-anchor="middle" font-weight="normal" textLength="67" lengthAdjust="spacing" stroke="#c00018" stroke-width="0.3">850 mm</text>
<rect x="437.4" y="846.5" width="47.6" height="82.5" fill="#d9d9d9"/>
<rect x="317.4" y="761.0" width="256.1" height="170.8" fill="none" stroke="#ff0000" stroke-width="2"/>
<line x1="319.5" y1="855.5" x2="479.0" y2="855.5" stroke="#ff0000" stroke-width="2" stroke-dasharray="2,3" stroke-linecap="butt"/>
<line x1="479.0" y1="855.5" x2="479.0" y2="931.8" stroke="#ff0000" stroke-width="2" stroke-dasharray="2,3" stroke-linecap="butt"/>
<line x1="319.5" y1="763.9" x2="568.9" y2="763.9" stroke="#000" stroke-width="1.8" stroke-linecap="butt"/>
<line x1="319.5" y1="763.9" x2="319.5" y2="846.5" stroke="#000" stroke-width="1.8" stroke-linecap="butt"/>
<line x1="568.9" y1="763.9" x2="568.9" y2="929.0" stroke="#000" stroke-width="1.8" stroke-linecap="butt"/>
<line x1="319.5" y1="805.1" x2="526.5" y2="805.1" stroke="#000" stroke-width="1.8" stroke-linecap="butt"/>
<line x1="526.5" y1="805.1" x2="526.5" y2="890.6" stroke="#000" stroke-width="1.8" stroke-linecap="butt"/>
<line x1="346.1" y1="763.9" x2="346.1" y2="846.5" stroke="#000" stroke-width="1.8" stroke-linecap="butt"/>
<line x1="369.8" y1="763.9" x2="369.8" y2="846.5" stroke="#000" stroke-width="1.8" stroke-linecap="butt"/>
<line x1="393.7" y1="763.9" x2="393.7" y2="846.5" stroke="#000" stroke-width="1.8" stroke-linecap="butt"/>
<line x1="417.1" y1="763.9" x2="417.1" y2="846.5" stroke="#000" stroke-width="1.8" stroke-linecap="butt"/>
<line x1="441.0" y1="763.9" x2="441.0" y2="846.5" stroke="#000" stroke-width="1.8" stroke-linecap="butt"/>
<line x1="464.4" y1="763.9" x2="464.4" y2="846.5" stroke="#000" stroke-width="1.8" stroke-linecap="butt"/>
<line x1="488.2" y1="763.9" x2="488.2" y2="846.5" stroke="#000" stroke-width="1.8" stroke-linecap="butt"/>
<line x1="485.0" y1="846.5" x2="485.0" y2="929.0" stroke="#000" stroke-width="1.8" stroke-linecap="butt"/>
<line x1="319.5" y1="846.5" x2="568.9" y2="846.5" stroke="#000" stroke-width="1.8" stroke-linecap="butt"/>
<line x1="485.0" y1="929.0" x2="568.9" y2="929.0" stroke="#000" stroke-width="1.8" stroke-linecap="butt"/>
<line x1="437.4" y1="890.6" x2="526.5" y2="890.6" stroke="#000" stroke-width="1.8" stroke-linecap="butt"/>
<line x1="488.2" y1="847.0" x2="532.6" y2="766.5" stroke="#000" stroke-width="1.6" stroke-linecap="butt"/>
<line x1="488.2" y1="847.0" x2="568.9" y2="805.6" stroke="#000" stroke-width="1.6" stroke-linecap="butt"/>
<line x1="488.2" y1="847.0" x2="568.9" y2="888.2" stroke="#000" stroke-width="1.6" stroke-linecap="butt"/>
<line x1="488.2" y1="847.0" x2="535.0" y2="929.0" stroke="#000" stroke-width="1.6" stroke-linecap="butt"/>
<line x1="437.4" y1="846.5" x2="485.0" y2="846.5" stroke="#000" stroke-width="1.2" stroke-dasharray="1.5,2" stroke-linecap="butt"/>
<line x1="437.4" y1="929.0" x2="485.0" y2="929.0" stroke="#000" stroke-width="1.2" stroke-dasharray="1.5,2" stroke-linecap="butt"/>
<line x1="437.4" y1="846.5" x2="437.4" y2="929.0" stroke="#000" stroke-width="1.2" stroke-dasharray="1.5,2" stroke-linecap="butt"/>
<line x1="461.3" y1="846.5" x2="461.3" y2="929.0" stroke="#000" stroke-width="1.2" stroke-dasharray="1.5,2" stroke-linecap="butt"/>
<rect x="318.0" y="841.0" width="171.8" height="5.0" fill="#000"/>
<rect x="437.4" y="841.0" width="52.4" height="11.0" fill="#000"/>
<rect x="317.9" y="790.8" width="3.7" height="28.4" fill="#000"/>
<polygon points="309.8,805.0 318.4,800.5 318.4,809.5" fill="#000"/>
<text x="330.0" y="802.6" font-family="Liberation Serif" font-size="19" fill="#000" text-anchor="middle" font-weight="normal" textLength="20.5" lengthAdjust="spacing" stroke="#000" stroke-width="0.3">15</text>
<text x="355.0" y="802.6" font-family="Liberation Serif" font-size="19" fill="#000" text-anchor="middle" font-weight="normal" textLength="20.5" lengthAdjust="spacing" stroke="#000" stroke-width="0.3">14</text>
<text x="378.4" y="802.6" font-family="Liberation Serif" font-size="19" fill="#000" text-anchor="middle" font-weight="normal" textLength="20.5" lengthAdjust="spacing" stroke="#000" stroke-width="0.3">13</text>
<text x="402.6" y="802.6" font-family="Liberation Serif" font-size="19" fill="#000" text-anchor="middle" font-weight="normal" textLength="20.5" lengthAdjust="spacing" stroke="#000" stroke-width="0.3">12</text>
<text x="426.0" y="802.6" font-family="Liberation Serif" font-size="19" fill="#000" text-anchor="middle" font-weight="normal" textLength="20.5" lengthAdjust="spacing" stroke="#000" stroke-width="0.3">11</text>
<text x="449.4" y="802.6" font-family="Liberation Serif" font-size="19" fill="#000" text-anchor="middle" font-weight="normal" textLength="20.5" lengthAdjust="spacing" stroke="#000" stroke-width="0.3">10</text>
<text x="472.0" y="802.6" font-family="Liberation Serif" font-size="19" fill="#000" text-anchor="middle" font-weight="normal" stroke="#000" stroke-width="0.3">9</text>
<text x="498.4" y="802.3" font-family="Liberation Serif" font-size="19" fill="#000" text-anchor="middle" font-weight="normal" stroke="#000" stroke-width="0.3">8</text>
<text x="543.0" y="802.3" font-family="Liberation Serif" font-size="19" fill="#000" text-anchor="middle" font-weight="normal" stroke="#000" stroke-width="0.3">7</text>
<text x="543.0" y="838.2" font-family="Liberation Serif" font-size="19" fill="#000" text-anchor="middle" font-weight="normal" stroke="#000" stroke-width="0.3">6</text>
<text x="543.0" y="870.5" font-family="Liberation Serif" font-size="19" fill="#000" text-anchor="middle" font-weight="normal" stroke="#000" stroke-width="0.3">5</text>
<text x="543.0" y="914.0" font-family="Liberation Serif" font-size="19" fill="#000" text-anchor="middle" font-weight="normal" stroke="#000" stroke-width="0.3">4</text>
<text x="500.6" y="914.0" font-family="Liberation Serif" font-size="19" fill="#000" text-anchor="middle" font-weight="normal" stroke="#000" stroke-width="0.3">3</text>
<text x="472.9" y="914.0" font-family="Liberation Serif" font-size="19" fill="#000" text-anchor="middle" font-weight="normal" stroke="#000" stroke-width="0.3">2</text>
<text x="448.7" y="914.0" font-family="Liberation Serif" font-size="19" fill="#000" text-anchor="middle" font-weight="normal" stroke="#000" stroke-width="0.3">1</text>
<line x1="319.5" y1="751.8" x2="567.7" y2="751.8" stroke="#000" stroke-width="1.8" stroke-linecap="butt"/>
<polygon points="319.5,751.8 331.5,746.8 331.5,756.8" fill="#000"/>
<polygon points="567.7,751.8 555.7,746.8 555.7,756.8" fill="#000"/>
<line x1="319.5" y1="745.3" x2="319.5" y2="763.9" stroke="#000" stroke-width="1.8" stroke-linecap="butt"/>
<line x1="567.7" y1="740.9" x2="567.7" y2="763.9" stroke="#000" stroke-width="1.8" stroke-linecap="butt"/>
<text x="427.5" y="746.1" font-family="Liberation Serif" font-size="20.5" fill="#000" text-anchor="middle" font-weight="normal" textLength="79" lengthAdjust="spacing" stroke="#000" stroke-width="0.3">2170 mm</text>
<line x1="308.2" y1="763.9" x2="308.2" y2="846.5" stroke="#000" stroke-width="1.8" stroke-linecap="butt"/>
<polygon points="308.2,763.9 303.2,775.9 313.2,775.9" fill="#000"/>
<polygon points="308.2,846.5 303.2,834.5 313.2,834.5" fill="#000"/>
<line x1="298.5" y1="763.9" x2="319.5" y2="763.9" stroke="#000" stroke-width="1.8" stroke-linecap="butt"/>
<line x1="301.8" y1="846.5" x2="319.5" y2="846.5" stroke="#000" stroke-width="1.8" stroke-linecap="butt"/>
<text transform="translate(303.4,805.0) rotate(-90)" font-family="Liberation Serif" font-size="20.5" fill="#000" text-anchor="middle" font-weight="normal" textLength="68" lengthAdjust="spacing" stroke="#000" stroke-width="0.3">750 mm</text>
<line x1="428.9" y1="848.9" x2="428.9" y2="928.6" stroke="#000" stroke-width="1.8" stroke-linecap="butt"/>
<polygon points="428.9,848.9 423.9,860.9 433.9,860.9" fill="#000"/>
<polygon points="428.9,928.6 423.9,916.6 433.9,916.6" fill="#000"/>
<line x1="416.8" y1="929.0" x2="437.4" y2="929.0" stroke="#000" stroke-width="1.8" stroke-linecap="butt"/>
<text transform="translate(422.0,886.6) rotate(-90)" font-family="Liberation Serif" font-size="20.5" fill="#000" text-anchor="middle" font-weight="normal" textLength="65" lengthAdjust="spacing" stroke="#000" stroke-width="0.3">750 mm</text>
<line x1="437.4" y1="938.2" x2="567.3" y2="938.2" stroke="#000" stroke-width="1.8" stroke-linecap="butt"/>
<polygon points="437.4,938.2 449.4,933.2 449.4,943.2" fill="#000"/>
<polygon points="567.3,938.2 555.3,933.2 555.3,943.2" fill="#000"/>
<line x1="437.4" y1="929.0" x2="437.4" y2="943.9" stroke="#000" stroke-width="1.8" stroke-linecap="butt"/>
<line x1="567.3" y1="929.0" x2="567.3" y2="943.9" stroke="#000" stroke-width="1.8" stroke-linecap="butt"/>
<text x="502.3" y="962.4" font-family="Liberation Serif" font-size="20.5" fill="#000" text-anchor="middle" font-weight="normal" textLength="78.3" lengthAdjust="spacing" stroke="#000" stroke-width="0.3">1150 mm</text>
<line x1="585.2" y1="765.0" x2="585.2" y2="796.5" stroke="#000" stroke-width="1.8" stroke-linecap="butt"/>
<line x1="585.2" y1="896.0" x2="585.2" y2="928.6" stroke="#000" stroke-width="1.8" stroke-linecap="butt"/>
<polygon points="585.2,765.0 580.2,777.0 590.2,777.0" fill="#000"/>
<polygon points="585.2,928.6 580.2,916.6 590.2,916.6" fill="#000"/>
<line x1="568.9" y1="763.9" x2="589.0" y2="763.9" stroke="#000" stroke-width="1.8" stroke-linecap="butt"/>
<line x1="568.9" y1="929.0" x2="588.7" y2="929.0" stroke="#000" stroke-width="1.8" stroke-linecap="butt"/>
<text transform="translate(597.1,843.1) rotate(-90)" font-family="Liberation Serif" font-size="20.5" fill="#000" text-anchor="middle" font-weight="normal" textLength="78.6" lengthAdjust="spacing" stroke="#000" stroke-width="0.3">1440 mm</text>
<line x1="614.9" y1="761.9" x2="614.9" y2="794.4" stroke="#ff0000" stroke-width="1.8" stroke-linecap="butt"/>
<line x1="614.9" y1="894.0" x2="614.9" y2="930.7" stroke="#ff0000" stroke-width="1.8" stroke-linecap="butt"/>
<polygon points="614.9,761.9 608.9,772.9 620.9,772.9" fill="#ff0000"/>
<polygon points="614.9,930.7 608.9,919.7 620.9,919.7" fill="#ff0000"/>
<text transform="translate(609.7,845.7) rotate(90)" font-family="Liberation Serif" font-size="20.5" fill="#c00018" text-anchor="middle" font-weight="normal" textLength="77.6" lengthAdjust="spacing" stroke="#c00018" stroke-width="0.3">1480 mm</text>
<line x1="573.5" y1="760.9" x2="629.4" y2="760.9" stroke="#d09040" stroke-width="1.6" stroke-linecap="butt"/>
<line x1="573.5" y1="760.9" x2="629.4" y2="760.9" stroke="#000" stroke-width="1.6" stroke-dasharray="1.5,2.5" stroke-linecap="butt"/>
<rect x="573.6" y="713.6" width="53.3" height="47.2" fill="#fff" stroke="#000" stroke-width="1.5"/>
<text x="598.9" y="746.6" font-family="Liberation Serif" font-size="26" fill="#000" text-anchor="middle" font-weight="normal" stroke="#000" stroke-width="0.3">36</text>
<line x1="573.5" y1="932.3" x2="629.4" y2="932.3" stroke="#ff0000" stroke-width="1.3" stroke-dasharray="1.5,2.5" stroke-linecap="butt"/>
<rect x="715.3" y="846.5" width="50.3" height="82.5" fill="#d9d9d9"/>
<rect x="629.4" y="761.0" width="256.7" height="170.8" fill="none" stroke="#ff0000" stroke-width="2"/>
<line x1="883.5" y1="854.7" x2="723.5" y2="854.7" stroke="#ff0000" stroke-width="2" stroke-dasharray="2,3" stroke-linecap="butt"/>
<line x1="723.5" y1="854.7" x2="723.5" y2="931.8" stroke="#ff0000" stroke-width="2" stroke-dasharray="2,3" stroke-linecap="butt"/>
<line x1="883.5" y1="763.9" x2="632.7" y2="763.9" stroke="#000" stroke-width="1.8" stroke-linecap="butt"/>
<line x1="883.5" y1="763.9" x2="883.5" y2="846.5" stroke="#000" stroke-width="1.8" stroke-linecap="butt"/>
<line x1="632.7" y1="763.9" x2="632.7" y2="929.0" stroke="#000" stroke-width="1.8" stroke-linecap="butt"/>
<line x1="883.5" y1="805.1" x2="674.0" y2="805.1" stroke="#000" stroke-width="1.8" stroke-linecap="butt"/>
<line x1="674.0" y1="805.1" x2="674.0" y2="884.4" stroke="#000" stroke-width="1.8" stroke-linecap="butt"/>
<line x1="856.9" y1="763.9" x2="856.9" y2="846.5" stroke="#000" stroke-width="1.8" stroke-linecap="butt"/>
<line x1="833.2" y1="763.9" x2="833.2" y2="846.5" stroke="#000" stroke-width="1.8" stroke-linecap="butt"/>
<line x1="809.3" y1="763.9" x2="809.3" y2="846.5" stroke="#000" stroke-width="1.8" stroke-linecap="butt"/>
<line x1="785.9" y1="763.9" x2="785.9" y2="846.5" stroke="#000" stroke-width="1.8" stroke-linecap="butt"/>
<line x1="761.9" y1="763.9" x2="761.9" y2="846.5" stroke="#000" stroke-width="1.8" stroke-linecap="butt"/>
<line x1="738.0" y1="763.9" x2="738.0" y2="846.5" stroke="#000" stroke-width="1.8" stroke-linecap="butt"/>
<line x1="715.3" y1="763.9" x2="715.3" y2="846.5" stroke="#000" stroke-width="1.8" stroke-linecap="butt"/>
<line x1="715.3" y1="846.5" x2="715.3" y2="929.0" stroke="#000" stroke-width="1.8" stroke-linecap="butt"/>
<line x1="883.5" y1="846.5" x2="632.7" y2="846.5" stroke="#000" stroke-width="1.8" stroke-linecap="butt"/>
<line x1="715.3" y1="929.0" x2="632.7" y2="929.0" stroke="#000" stroke-width="1.8" stroke-linecap="butt"/>
<line x1="765.6" y1="884.4" x2="674.0" y2="884.4" stroke="#000" stroke-width="1.8" stroke-linecap="butt"/>
<line x1="715.3" y1="847.0" x2="668.1" y2="766.5" stroke="#000" stroke-width="1.6" stroke-linecap="butt"/>
<line x1="715.3" y1="847.0" x2="632.7" y2="805.6" stroke="#000" stroke-width="1.6" stroke-linecap="butt"/>
<line x1="715.3" y1="847.0" x2="632.7" y2="888.2" stroke="#000" stroke-width="1.6" stroke-linecap="butt"/>
<line x1="715.3" y1="847.0" x2="665.7" y2="929.0" stroke="#000" stroke-width="1.6" stroke-linecap="butt"/>
<line x1="765.6" y1="846.5" x2="715.3" y2="846.5" stroke="#000" stroke-width="1.2" stroke-dasharray="1.5,2" stroke-linecap="butt"/>
<line x1="765.6" y1="929.0" x2="715.3" y2="929.0" stroke="#000" stroke-width="1.2" stroke-dasharray="1.5,2" stroke-linecap="butt"/>
<line x1="765.6" y1="846.5" x2="765.6" y2="929.0" stroke="#000" stroke-width="1.2" stroke-dasharray="1.5,2" stroke-linecap="butt"/>
<line x1="741.1" y1="846.5" x2="741.1" y2="929.0" stroke="#000" stroke-width="1.2" stroke-dasharray="1.5,2" stroke-linecap="butt"/>
<rect x="713.6" y="841.0" width="171.8" height="5.0" fill="#000"/>
<rect x="713.6" y="841.0" width="52.0" height="11.0" fill="#000"/>
<rect x="881.4" y="790.8" width="4.1" height="28.4" fill="#000"/>
<polygon points="895.5,805.0 884.9,800.5 884.9,809.5" fill="#000"/>
<text x="655.2" y="802.1" font-family="Liberation Serif" font-size="19" fill="#000" text-anchor="middle" font-weight="normal" stroke="#000" stroke-width="0.3">7</text>
<text x="699.0" y="802.1" font-family="Liberation Serif" font-size="19" fill="#000" text-anchor="middle" font-weight="normal" stroke="#000" stroke-width="0.3">8</text>
<text x="726.1" y="802.1" font-family="Liberation Serif" font-size="19" fill="#000" text-anchor="middle" font-weight="normal" stroke="#000" stroke-width="0.3">9</text>
<text x="750.6" y="802.1" font-family="Liberation Serif" font-size="19" fill="#000" text-anchor="middle" font-weight="normal" textLength="20.5" lengthAdjust="spacing" stroke="#000" stroke-width="0.3">10</text>
<text x="773.9" y="802.1" font-family="Liberation Serif" font-size="19" fill="#000" text-anchor="middle" font-weight="normal" textLength="20.5" lengthAdjust="spacing" stroke="#000" stroke-width="0.3">11</text>
<text x="797.9" y="802.1" font-family="Liberation Serif" font-size="19" fill="#000" text-anchor="middle" font-weight="normal" textLength="20.5" lengthAdjust="spacing" stroke="#000" stroke-width="0.3">12</text>
<text x="821.1" y="802.1" font-family="Liberation Serif" font-size="19" fill="#000" text-anchor="middle" font-weight="normal" textLength="20.5" lengthAdjust="spacing" stroke="#000" stroke-width="0.3">13</text>
<text x="844.8" y="802.1" font-family="Liberation Serif" font-size="19" fill="#000" text-anchor="middle" font-weight="normal" textLength="20.5" lengthAdjust="spacing" stroke="#000" stroke-width="0.3">14</text>
<text x="868.6" y="802.1" font-family="Liberation Serif" font-size="19" fill="#000" text-anchor="middle" font-weight="normal" textLength="20.5" lengthAdjust="spacing" stroke="#000" stroke-width="0.3">15</text>
<text x="655.2" y="840.8" font-family="Liberation Serif" font-size="19" fill="#000" text-anchor="middle" font-weight="normal" stroke="#000" stroke-width="0.3">6</text>
<text x="655.2" y="870.2" font-family="Liberation Serif" font-size="19" fill="#000" text-anchor="middle" font-weight="normal" stroke="#000" stroke-width="0.3">5</text>
<text x="655.2" y="908.4" font-family="Liberation Serif" font-size="19" fill="#000" text-anchor="middle" font-weight="normal" stroke="#000" stroke-width="0.3">4</text>
<text x="701.6" y="908.4" font-family="Liberation Serif" font-size="19" fill="#000" text-anchor="middle" font-weight="normal" stroke="#000" stroke-width="0.3">3</text>
<text x="730.0" y="908.4" font-family="Liberation Serif" font-size="19" fill="#000" text-anchor="middle" font-weight="normal" stroke="#000" stroke-width="0.3">2</text>
<text x="752.5" y="908.4" font-family="Liberation Serif" font-size="19" fill="#000" text-anchor="middle" font-weight="normal" stroke="#000" stroke-width="0.3">1</text>
<line x1="629.4" y1="752.3" x2="886.1" y2="752.3" stroke="#c8141e" stroke-width="1.8" stroke-linecap="butt"/>
<polygon points="629.4,752.3 640.4,746.3 640.4,758.3" fill="#ff0000"/>
<polygon points="886.1,752.3 875.1,746.3 875.1,758.3" fill="#ff0000"/>
<line x1="629.4" y1="745.0" x2="629.4" y2="761.3" stroke="#c8141e" stroke-width="1.8" stroke-linecap="butt"/>
<line x1="886.1" y1="745.0" x2="886.1" y2="761.3" stroke="#c8141e" stroke-width="1.8" stroke-linecap="butt"/>
<text x="774.5" y="745.8" font-family="Liberation Serif" font-size="20.5" fill="#c00018" text-anchor="middle" font-weight="normal" textLength="79" lengthAdjust="spacing" stroke="#c00018" stroke-width="0.3">2190 mm</text>
<line x1="895.2" y1="761.3" x2="895.2" y2="854.7" stroke="#c8141e" stroke-width="1.8" stroke-linecap="butt"/>
<polygon points="895.2,761.3 889.2,772.3 901.2,772.3" fill="#ff0000"/>
<polygon points="895.2,854.7 889.2,843.7 901.2,843.7" fill="#ff0000"/>
<line x1="886.1" y1="761.3" x2="905.0" y2="761.3" stroke="#c8141e" stroke-width="1.8" stroke-linecap="butt"/>
<line x1="886.1" y1="854.7" x2="905.0" y2="854.7" stroke="#c8141e" stroke-width="1.8" stroke-linecap="butt"/>
<text transform="translate(898.5,807.1) rotate(90)" font-family="Liberation Serif" font-size="20.5" fill="#c00018" text-anchor="middle" font-weight="normal" textLength="68" lengthAdjust="spacing" stroke="#c00018" stroke-width="0.3">850 mm</text>
<line x1="629.4" y1="940.6" x2="723.5" y2="940.6" stroke="#c8141e" stroke-width="1.8" stroke-linecap="butt"/>
<polygon points="629.4,940.6 640.4,934.6 640.4,946.6" fill="#ff0000"/>
<polygon points="723.5,940.6 712.5,934.6 712.5,946.6" fill="#ff0000"/>
<line x1="629.4" y1="931.6" x2="629.4" y2="948.0" stroke="#c8141e" stroke-width="1.8" stroke-linecap="butt"/>
<line x1="723.5" y1="931.6" x2="723.5" y2="948.0" stroke="#c8141e" stroke-width="1.8" stroke-linecap="butt"/>
<text x="675.9" y="964.6" font-family="Liberation Serif" font-size="20.5" fill="#c00018" text-anchor="middle" font-weight="normal" textLength="67" lengthAdjust="spacing" stroke="#c00018" stroke-width="0.3">850 mm</text>
<rect x="296.3" y="1008.9" width="280.1" height="191.9" fill="none" stroke="#ff0000" stroke-width="2"/>
<line x1="298.3" y1="1103.0" x2="481.8" y2="1103.0" stroke="#ff0000" stroke-width="2" stroke-dasharray="2,3" stroke-linecap="butt"/>
<line x1="481.8" y1="1103.0" x2="481.8" y2="1200.8" stroke="#ff0000" stroke-width="2" stroke-dasharray="2,3" stroke-linecap="butt"/>
<line x1="298.3" y1="1011.8" x2="571.9" y2="1011.8" stroke="#000" stroke-width="1.8" stroke-linecap="butt"/>
<line x1="298.3" y1="1011.8" x2="298.3" y2="1094.7" stroke="#000" stroke-width="1.8" stroke-linecap="butt"/>
<line x1="571.9" y1="1011.8" x2="571.9" y2="1197.6" stroke="#000" stroke-width="1.8" stroke-linecap="butt"/>
<line x1="298.3" y1="1053.0" x2="529.4" y2="1053.0" stroke="#000" stroke-width="1.8" stroke-linecap="butt"/>
<line x1="529.4" y1="1053.0" x2="529.4" y2="1159.4" stroke="#000" stroke-width="1.8" stroke-linecap="butt"/>
<line x1="325.6" y1="1011.8" x2="325.6" y2="1094.7" stroke="#000" stroke-width="1.8" stroke-linecap="butt"/>
<line x1="349.2" y1="1011.8" x2="349.2" y2="1094.7" stroke="#000" stroke-width="1.8" stroke-linecap="butt"/>
<line x1="372.9" y1="1011.8" x2="372.9" y2="1094.7" stroke="#000" stroke-width="1.8" stroke-linecap="butt"/>
<line x1="396.5" y1="1011.8" x2="396.5" y2="1094.7" stroke="#000" stroke-width="1.8" stroke-linecap="butt"/>
<line x1="420.3" y1="1011.8" x2="420.3" y2="1094.7" stroke="#000" stroke-width="1.8" stroke-linecap="butt"/>
<line x1="443.9" y1="1011.8" x2="443.9" y2="1094.7" stroke="#000" stroke-width="1.8" stroke-linecap="butt"/>
<line x1="467.5" y1="1011.8" x2="467.5" y2="1094.7" stroke="#000" stroke-width="1.8" stroke-linecap="butt"/>
<line x1="491.2" y1="1011.8" x2="491.2" y2="1094.7" stroke="#000" stroke-width="1.8" stroke-linecap="butt"/>
<line x1="488.2" y1="1094.7" x2="488.2" y2="1197.6" stroke="#000" stroke-width="1.8" stroke-linecap="butt"/>
<line x1="298.3" y1="1094.7" x2="571.9" y2="1094.7" stroke="#000" stroke-width="1.8" stroke-linecap="butt"/>
<line x1="488.2" y1="1117.8" x2="571.9" y2="1117.8" stroke="#000" stroke-width="1.8" stroke-linecap="butt"/>
<line x1="488.2" y1="1197.6" x2="571.9" y2="1197.6" stroke="#000" stroke-width="1.8" stroke-linecap="butt"/>
<line x1="488.2" y1="1159.4" x2="529.4" y2="1159.4" stroke="#000" stroke-width="1.8" stroke-linecap="butt"/>
<line x1="488.5" y1="1094.7" x2="536.1" y2="1012.5" stroke="#000" stroke-width="1.6" stroke-linecap="butt"/>
<line x1="488.5" y1="1094.7" x2="571.9" y2="1051.2" stroke="#000" stroke-width="1.6" stroke-linecap="butt"/>
<line x1="488.5" y1="1117.8" x2="535.6" y2="1197.6" stroke="#000" stroke-width="1.6" stroke-linecap="butt"/>
<line x1="488.5" y1="1117.8" x2="571.9" y2="1156.8" stroke="#000" stroke-width="1.6" stroke-linecap="butt"/>
<rect x="296.8" y="1086.7" width="199.7" height="5.3" fill="#000"/>
<rect x="491.2" y="1090.0" width="5.3" height="31.3" fill="#000"/>
<rect x="297.0" y="1038.4" width="4.0" height="28.4" fill="#000"/>
<polygon points="288.3,1052.6 297.5,1048.1 297.5,1057.1" fill="#000"/>
<text x="311.5" y="1050.0" font-family="Liberation Serif" font-size="19" fill="#000" text-anchor="middle" font-weight="normal" textLength="20.5" lengthAdjust="spacing" stroke="#000" stroke-width="0.3">15</text>
<text x="336.7" y="1050.0" font-family="Liberation Serif" font-size="19" fill="#000" text-anchor="middle" font-weight="normal" textLength="20.5" lengthAdjust="spacing" stroke="#000" stroke-width="0.3">14</text>
<text x="358.8" y="1050.0" font-family="Liberation Serif" font-size="19" fill="#000" text-anchor="middle" font-weight="normal" textLength="20.5" lengthAdjust="spacing" stroke="#000" stroke-width="0.3">13</text>
<text x="382.0" y="1050.0" font-family="Liberation Serif" font-size="19" fill="#000" text-anchor="middle" font-weight="normal" textLength="20.5" lengthAdjust="spacing" stroke="#000" stroke-width="0.3">12</text>
<text x="406.2" y="1050.0" font-family="Liberation Serif" font-size="19" fill="#000" text-anchor="middle" font-weight="normal" textLength="20.5" lengthAdjust="spacing" stroke="#000" stroke-width="0.3">11</text>
<text x="430.0" y="1050.0" font-family="Liberation Serif" font-size="19" fill="#000" text-anchor="middle" font-weight="normal" textLength="20.5" lengthAdjust="spacing" stroke="#000" stroke-width="0.3">10</text>
<text x="450.9" y="1049.4" font-family="Liberation Serif" font-size="19" fill="#000" text-anchor="middle" font-weight="normal" stroke="#000" stroke-width="0.3">9</text>
<text x="475.8" y="1049.4" font-family="Liberation Serif" font-size="19" fill="#000" text-anchor="middle" font-weight="normal" stroke="#000" stroke-width="0.3">8</text>
<text x="497.4" y="1049.4" font-family="Liberation Serif" font-size="19" fill="#000" text-anchor="middle" font-weight="normal" stroke="#000" stroke-width="0.3">7</text>
<text x="546.2" y="1049.4" font-family="Liberation Serif" font-size="19" fill="#000" text-anchor="middle" font-weight="normal" stroke="#000" stroke-width="0.3">6</text>
<text x="546.2" y="1084.0" font-family="Liberation Serif" font-size="19" fill="#000" text-anchor="middle" font-weight="normal" stroke="#000" stroke-width="0.3">5</text>
<text x="546.2" y="1110.7" font-family="Liberation Serif" font-size="19" fill="#000" text-anchor="middle" font-weight="normal" stroke="#000" stroke-width="0.3">4</text>
<text x="546.2" y="1139.0" font-family="Liberation Serif" font-size="19" fill="#000" text-anchor="middle" font-weight="normal" stroke="#000" stroke-width="0.3">3</text>
<text x="546.2" y="1182.5" font-family="Liberation Serif" font-size="19" fill="#000" text-anchor="middle" font-weight="normal" stroke="#000" stroke-width="0.3">2</text>
<text x="503.6" y="1182.5" font-family="Liberation Serif" font-size="19" fill="#000" text-anchor="middle" font-weight="normal" stroke="#000" stroke-width="0.3">1</text>
<line x1="296.3" y1="1000.2" x2="570.2" y2="1000.2" stroke="#000" stroke-width="1.8" stroke-linecap="butt"/>
<polygon points="296.3,1000.2 308.3,995.2 308.3,1005.2" fill="#000"/>
<polygon points="570.2,1000.2 558.2,995.2 558.2,1005.2" fill="#000"/>
<line x1="296.3" y1="994.2" x2="296.3" y2="1011.8" stroke="#000" stroke-width="1.8" stroke-linecap="butt"/>
<line x1="570.2" y1="990.0" x2="570.2" y2="1011.8" stroke="#000" stroke-width="1.8" stroke-linecap="butt"/>
<text x="451.2" y="994.6" font-family="Liberation Serif" font-size="20.5" fill="#000" text-anchor="middle" font-weight="normal" textLength="78.6" lengthAdjust="spacing" stroke="#000" stroke-width="0.3">2370 mm</text>
<line x1="287.3" y1="1011.8" x2="287.3" y2="1094.7" stroke="#000" stroke-width="1.8" stroke-linecap="butt"/>
<polygon points="287.3,1011.8 282.3,1023.8 292.3,1023.8" fill="#000"/>
<polygon points="287.3,1094.7 282.3,1082.7 292.3,1082.7" fill="#000"/>
<line x1="281.2" y1="1011.8" x2="298.3" y2="1011.8" stroke="#000" stroke-width="1.8" stroke-linecap="butt"/>
<line x1="281.2" y1="1094.7" x2="298.3" y2="1094.7" stroke="#000" stroke-width="1.8" stroke-linecap="butt"/>
<text transform="translate(280.2,1052.1) rotate(-90)" font-family="Liberation Serif" font-size="20.5" fill="#000" text-anchor="middle" font-weight="normal" textLength="67.6" lengthAdjust="spacing" stroke="#000" stroke-width="0.3">750 mm</text>
<line x1="472.9" y1="1117.8" x2="472.9" y2="1197.6" stroke="#000" stroke-width="1.8" stroke-linecap="butt"/>
<polygon points="472.9,1117.8 467.9,1129.8 477.9,1129.8" fill="#000"/>
<polygon points="472.9,1197.6 467.9,1185.6 477.9,1185.6" fill="#000"/>
<line x1="467.3" y1="1117.8" x2="488.2" y2="1117.8" stroke="#000" stroke-width="1.8" stroke-linecap="butt"/>
<line x1="467.3" y1="1197.6" x2="488.2" y2="1197.6" stroke="#000" stroke-width="1.8" stroke-linecap="butt"/>
<text transform="translate(466.4,1153.7) rotate(-90)" font-family="Liberation Serif" font-size="20.5" fill="#000" text-anchor="middle" font-weight="normal" textLength="66.6" lengthAdjust="spacing" stroke="#000" stroke-width="0.3">750 mm</text>
<line x1="488.2" y1="1209.1" x2="570.2" y2="1209.1" stroke="#000" stroke-width="1.8" stroke-linecap="butt"/>
<polygon points="488.2,1209.1 500.2,1204.1 500.2,1214.1" fill="#000"/>
<polygon points="570.2,1209.1 558.2,1204.1 558.2,1214.1" fill="#000"/>
<line x1="488.2" y1="1197.6" x2="488.2" y2="1213.0" stroke="#000" stroke-width="1.8" stroke-linecap="butt"/>
<line x1="570.2" y1="1197.6" x2="570.2" y2="1213.0" stroke="#000" stroke-width="1.8" stroke-linecap="butt"/>
<text x="530.0" y="1232.2" font-family="Liberation Serif" font-size="20.5" fill="#000" text-anchor="middle" font-weight="normal" textLength="67" lengthAdjust="spacing" stroke="#000" stroke-width="0.3">750 mm</text>
<line x1="585.8" y1="1012.2" x2="585.8" y2="1043.2" stroke="#000" stroke-width="1.8" stroke-linecap="butt"/>
<line x1="585.8" y1="1140.8" x2="585.8" y2="1197.2" stroke="#000" stroke-width="1.8" stroke-linecap="butt"/>
<polygon points="585.8,1012.2 580.8,1024.2 590.8,1024.2" fill="#000"/>
<polygon points="585.8,1197.2 580.8,1185.2 590.8,1185.2" fill="#000"/>
<line x1="571.9" y1="1011.8" x2="591.5" y2="1011.8" stroke="#000" stroke-width="1.8" stroke-linecap="butt"/>
<line x1="571.9" y1="1197.6" x2="591.5" y2="1197.6" stroke="#000" stroke-width="1.8" stroke-linecap="butt"/>
<text transform="translate(598.6,1089.8) rotate(-90)" font-family="Liberation Serif" font-size="20.5" fill="#000" text-anchor="middle" font-weight="normal" textLength="77.2" lengthAdjust="spacing" stroke="#000" stroke-width="0.3">1640 mm</text>
<line x1="614.9" y1="1009.0" x2="614.9" y2="1043.2" stroke="#ff0000" stroke-width="1.8" stroke-linecap="butt"/>
<line x1="614.9" y1="1140.8" x2="614.9" y2="1200.8" stroke="#ff0000" stroke-width="1.8" stroke-linecap="butt"/>
<polygon points="614.9,1009.0 608.9,1020.0 620.9,1020.0" fill="#ff0000"/>
<polygon points="614.9,1200.8 608.9,1189.8 620.9,1189.8" fill="#ff0000"/>
<text transform="translate(606.5,1092.9) rotate(90)" font-family="Liberation Serif" font-size="20.5" fill="#c00018" text-anchor="middle" font-weight="normal" textLength="76.2" lengthAdjust="spacing" stroke="#c00018" stroke-width="0.3">1680 mm</text>
<rect x="573.4" y="960.0" width="53.2" height="47.2" fill="#fff" stroke="#000" stroke-width="1.5"/>
<text x="598.4" y="992.5" font-family="Liberation Serif" font-size="26" fill="#000" text-anchor="middle" font-weight="normal" stroke="#000" stroke-width="0.3">37</text>
<line x1="576.4" y1="1200.8" x2="629.3" y2="1200.8" stroke="#d09040" stroke-width="1.6" stroke-linecap="butt"/>
<line x1="576.4" y1="1200.8" x2="629.3" y2="1200.8" stroke="#000" stroke-width="1.6" stroke-dasharray="1.5,2.5" stroke-linecap="butt"/>
<rect x="629.3" y="1008.9" width="281.3" height="191.9" fill="none" stroke="#ff0000" stroke-width="2"/>
<line x1="907.8" y1="1100.4" x2="724.1" y2="1100.4" stroke="#ff0000" stroke-width="2" stroke-dasharray="2,3" stroke-linecap="butt"/>
<line x1="724.1" y1="1100.4" x2="724.1" y2="1200.8" stroke="#ff0000" stroke-width="2" stroke-dasharray="2,3" stroke-linecap="butt"/>
<line x1="907.8" y1="1011.8" x2="632.8" y2="1011.8" stroke="#000" stroke-width="1.8" stroke-linecap="butt"/>
<line x1="907.8" y1="1011.8" x2="907.8" y2="1094.7" stroke="#000" stroke-width="1.8" stroke-linecap="butt"/>
<line x1="632.8" y1="1011.8" x2="632.8" y2="1197.6" stroke="#000" stroke-width="1.8" stroke-linecap="butt"/>
<line x1="907.8" y1="1053.0" x2="674.0" y2="1053.0" stroke="#000" stroke-width="1.8" stroke-linecap="butt"/>
<line x1="674.0" y1="1053.0" x2="674.0" y2="1159.4" stroke="#000" stroke-width="1.8" stroke-linecap="butt"/>
<line x1="880.5" y1="1011.8" x2="880.5" y2="1094.7" stroke="#000" stroke-width="1.8" stroke-linecap="butt"/>
<line x1="856.8" y1="1011.8" x2="856.8" y2="1094.7" stroke="#000" stroke-width="1.8" stroke-linecap="butt"/>
<line x1="833.1" y1="1011.8" x2="833.1" y2="1094.7" stroke="#000" stroke-width="1.8" stroke-linecap="butt"/>
<line x1="809.5" y1="1011.8" x2="809.5" y2="1094.7" stroke="#000" stroke-width="1.8" stroke-linecap="butt"/>
<line x1="785.7" y1="1011.8" x2="785.7" y2="1094.7" stroke="#000" stroke-width="1.8" stroke-linecap="butt"/>
<line x1="762.0" y1="1011.8" x2="762.0" y2="1094.7" stroke="#000" stroke-width="1.8" stroke-linecap="butt"/>
<line x1="738.4" y1="1011.8" x2="738.4" y2="1094.7" stroke="#000" stroke-width="1.8" stroke-linecap="butt"/>
<line x1="712.1" y1="1011.8" x2="712.1" y2="1094.7" stroke="#000" stroke-width="1.8" stroke-linecap="butt"/>
<line x1="715.1" y1="1094.7" x2="715.1" y2="1197.6" stroke="#000" stroke-width="1.8" stroke-linecap="butt"/>
<line x1="907.8" y1="1094.7" x2="632.8" y2="1094.7" stroke="#000" stroke-width="1.8" stroke-linecap="butt"/>
<line x1="715.1" y1="1117.8" x2="632.8" y2="1117.8" stroke="#000" stroke-width="1.8" stroke-linecap="butt"/>
<line x1="715.1" y1="1197.6" x2="632.8" y2="1197.6" stroke="#000" stroke-width="1.8" stroke-linecap="butt"/>
<line x1="715.1" y1="1159.4" x2="674.0" y2="1159.4" stroke="#000" stroke-width="1.8" stroke-linecap="butt"/>
<line x1="714.8" y1="1094.7" x2="667.5" y2="1012.5" stroke="#000" stroke-width="1.6" stroke-linecap="butt"/>
<line x1="714.8" y1="1094.7" x2="632.8" y2="1051.2" stroke="#000" stroke-width="1.6" stroke-linecap="butt"/>
<line x1="714.8" y1="1117.8" x2="668.0" y2="1197.6" stroke="#000" stroke-width="1.6" stroke-linecap="butt"/>
<line x1="714.8" y1="1117.8" x2="632.8" y2="1156.8" stroke="#000" stroke-width="1.6" stroke-linecap="butt"/>
<rect x="706.8" y="1086.7" width="203.1" height="5.3" fill="#000"/>
<rect x="706.8" y="1090.0" width="5.3" height="31.3" fill="#000"/>
<rect x="905.1" y="1038.4" width="4.5" height="28.4" fill="#000"/>
<polygon points="921.8,1052.6 908.9,1048.1 908.9,1057.1" fill="#000"/>
<text x="655.6" y="1048.3" font-family="Liberation Serif" font-size="19" fill="#000" text-anchor="middle" font-weight="normal" stroke="#000" stroke-width="0.3">6</text>
<text x="699.5" y="1048.3" font-family="Liberation Serif" font-size="19" fill="#000" text-anchor="middle" font-weight="normal" stroke="#000" stroke-width="0.3">7</text>
<text x="726.0" y="1048.3" font-family="Liberation Serif" font-size="19" fill="#000" text-anchor="middle" font-weight="normal" stroke="#000" stroke-width="0.3">8</text>
<text x="749.4" y="1048.3" font-family="Liberation Serif" font-size="19" fill="#000" text-anchor="middle" font-weight="normal" stroke="#000" stroke-width="0.3">9</text>
<text x="774.0" y="1048.3" font-family="Liberation Serif" font-size="19" fill="#000" text-anchor="middle" font-weight="normal" textLength="20.5" lengthAdjust="spacing" stroke="#000" stroke-width="0.3">10</text>
<text x="797.3" y="1048.3" font-family="Liberation Serif" font-size="19" fill="#000" text-anchor="middle" font-weight="normal" textLength="20.5" lengthAdjust="spacing" stroke="#000" stroke-width="0.3">11</text>
<text x="821.2" y="1048.3" font-family="Liberation Serif" font-size="19" fill="#000" text-anchor="middle" font-weight="normal" textLength="20.5" lengthAdjust="spacing" stroke="#000" stroke-width="0.3">12</text>
<text x="845.3" y="1048.3" font-family="Liberation Serif" font-size="19" fill="#000" text-anchor="middle" font-weight="normal" textLength="20.5" lengthAdjust="spacing" stroke="#000" stroke-width="0.3">13</text>
<text x="868.6" y="1048.3" font-family="Liberation Serif" font-size="19" fill="#000" text-anchor="middle" font-weight="normal" textLength="20.5" lengthAdjust="spacing" stroke="#000" stroke-width="0.3">14</text>
<text x="892.5" y="1048.3" font-family="Liberation Serif" font-size="19" fill="#000" text-anchor="middle" font-weight="normal" textLength="20.5" lengthAdjust="spacing" stroke="#000" stroke-width="0.3">15</text>
<text x="655.6" y="1083.4" font-family="Liberation Serif" font-size="19" fill="#000" text-anchor="middle" font-weight="normal" stroke="#000" stroke-width="0.3">5</text>
<text x="655.6" y="1108.1" font-family="Liberation Serif" font-size="19" fill="#000" text-anchor="middle" font-weight="normal" stroke="#000" stroke-width="0.3">4</text>
<text x="655.6" y="1138.2" font-family="Liberation Serif" font-size="19" fill="#000" text-anchor="middle" font-weight="normal" stroke="#000" stroke-width="0.3">3</text>
<text x="655.6" y="1182.6" font-family="Liberation Serif" font-size="19" fill="#000" text-anchor="middle" font-weight="normal" stroke="#000" stroke-width="0.3">2</text>
<text x="695.9" y="1182.6" font-family="Liberation Serif" font-size="19" fill="#000" text-anchor="middle" font-weight="normal" stroke="#000" stroke-width="0.3">1</text>
<line x1="629.3" y1="999.8" x2="910.6" y2="999.8" stroke="#c8141e" stroke-width="1.8" stroke-linecap="butt"/>
<polygon points="629.3,999.8 640.3,993.8 640.3,1005.8" fill="#ff0000"/>
<polygon points="910.6,999.8 899.6,993.8 899.6,1005.8" fill="#ff0000"/>
<line x1="629.3" y1="992.0" x2="629.3" y2="1008.8" stroke="#c8141e" stroke-width="1.8" stroke-linecap="butt"/>
<line x1="910.6" y1="992.0" x2="910.6" y2="1008.8" stroke="#c8141e" stroke-width="1.8" stroke-linecap="butt"/>
<text x="771.3" y="994.3" font-family="Liberation Serif" font-size="20.5" fill="#c00018" text-anchor="middle" font-weight="normal" textLength="79" lengthAdjust="spacing" stroke="#c00018" stroke-width="0.3">2390 mm</text>
<line x1="922.9" y1="1008.8" x2="922.9" y2="1100.4" stroke="#c8141e" stroke-width="1.8" stroke-linecap="butt"/>
<polygon points="922.9,1008.8 916.9,1019.8 928.9,1019.8" fill="#ff0000"/>
<polygon points="922.9,1100.4 916.9,1089.4 928.9,1089.4" fill="#ff0000"/>
<line x1="910.6" y1="1008.8" x2="928.0" y2="1008.8" stroke="#c8141e" stroke-width="1.8" stroke-linecap="butt"/>
<line x1="910.6" y1="1100.4" x2="928.0" y2="1100.4" stroke="#c8141e" stroke-width="1.8" stroke-linecap="butt"/>
<text transform="translate(927.6,1053.3) rotate(90)" font-family="Liberation Serif" font-size="20.5" fill="#c00018" text-anchor="middle" font-weight="normal" textLength="68.5" lengthAdjust="spacing" stroke="#c00018" stroke-width="0.3">850 mm</text>
<line x1="629.3" y1="1209.0" x2="724.1" y2="1209.0" stroke="#c8141e" stroke-width="1.8" stroke-linecap="butt"/>
<polygon points="629.3,1209.0 640.3,1203.0 640.3,1215.0" fill="#ff0000"/>
<polygon points="724.1,1209.0 713.1,1203.0 713.1,1215.0" fill="#ff0000"/>
<line x1="629.3" y1="1200.7" x2="629.3" y2="1217.0" stroke="#c8141e" stroke-width="1.8" stroke-linecap="butt"/>
<line x1="724.1" y1="1200.7" x2="724.1" y2="1217.0" stroke="#c8141e" stroke-width="1.8" stroke-linecap="butt"/>
<text x="675.3" y="1232.8" font-family="Liberation Serif" font-size="20.5" fill="#c00018" text-anchor="middle" font-weight="normal" textLength="67" lengthAdjust="spacing" stroke="#c00018" stroke-width="0.3">850 mm</text>
<rect x="461.7" y="1353.5" width="23.1" height="81.3" fill="#d9d9d9"/>
<rect x="292.9" y="1268.9" width="280.1" height="171.0" fill="none" stroke="#ff0000" stroke-width="2"/>
<line x1="295.9" y1="1363.1" x2="478.6" y2="1363.1" stroke="#ff0000" stroke-width="2" stroke-dasharray="2,3" stroke-linecap="butt"/>
<line x1="478.6" y1="1363.1" x2="478.6" y2="1439.9" stroke="#ff0000" stroke-width="2" stroke-dasharray="2,3" stroke-linecap="butt"/>
<line x1="295.9" y1="1271.6" x2="568.7" y2="1271.6" stroke="#000" stroke-width="1.8" stroke-linecap="butt"/>
<line x1="295.9" y1="1271.6" x2="295.9" y2="1353.5" stroke="#000" stroke-width="1.8" stroke-linecap="butt"/>
<line x1="568.7" y1="1271.6" x2="568.7" y2="1435.1" stroke="#000" stroke-width="1.8" stroke-linecap="butt"/>
<line x1="295.9" y1="1312.8" x2="526.5" y2="1312.8" stroke="#000" stroke-width="1.8" stroke-linecap="butt"/>
<line x1="526.5" y1="1312.8" x2="526.5" y2="1395.8" stroke="#000" stroke-width="1.8" stroke-linecap="butt"/>
<line x1="322.9" y1="1271.6" x2="322.9" y2="1353.5" stroke="#000" stroke-width="1.8" stroke-linecap="butt"/>
<line x1="346.3" y1="1271.6" x2="346.3" y2="1353.5" stroke="#000" stroke-width="1.8" stroke-linecap="butt"/>
<line x1="369.9" y1="1271.6" x2="369.9" y2="1353.5" stroke="#000" stroke-width="1.8" stroke-linecap="butt"/>
<line x1="393.7" y1="1271.6" x2="393.7" y2="1353.5" stroke="#000" stroke-width="1.8" stroke-linecap="butt"/>
<line x1="417.3" y1="1271.6" x2="417.3" y2="1353.5" stroke="#000" stroke-width="1.8" stroke-linecap="butt"/>
<line x1="440.9" y1="1271.6" x2="440.9" y2="1353.5" stroke="#000" stroke-width="1.8" stroke-linecap="butt"/>
<line x1="464.4" y1="1271.6" x2="464.4" y2="1353.5" stroke="#000" stroke-width="1.8" stroke-linecap="butt"/>
<line x1="488.0" y1="1271.6" x2="488.0" y2="1353.5" stroke="#000" stroke-width="1.8" stroke-linecap="butt"/>
<line x1="484.8" y1="1353.5" x2="484.8" y2="1435.1" stroke="#000" stroke-width="1.8" stroke-linecap="butt"/>
<line x1="295.9" y1="1355.0" x2="568.7" y2="1355.0" stroke="#000" stroke-width="1.8" stroke-linecap="butt"/>
<line x1="484.8" y1="1435.1" x2="568.7" y2="1435.1" stroke="#000" stroke-width="1.8" stroke-linecap="butt"/>
<line x1="461.7" y1="1395.8" x2="526.5" y2="1395.8" stroke="#000" stroke-width="1.8" stroke-linecap="butt"/>
<line x1="487.1" y1="1353.0" x2="532.7" y2="1271.6" stroke="#000" stroke-width="1.6" stroke-linecap="butt"/>
<line x1="487.1" y1="1353.0" x2="568.7" y2="1311.2" stroke="#000" stroke-width="1.6" stroke-linecap="butt"/>
<line x1="487.1" y1="1353.0" x2="568.7" y2="1394.1" stroke="#000" stroke-width="1.6" stroke-linecap="butt"/>
<line x1="487.1" y1="1353.0" x2="532.7" y2="1435.1" stroke="#000" stroke-width="1.6" stroke-linecap="butt"/>
<line x1="461.7" y1="1353.5" x2="484.8" y2="1353.5" stroke="#000" stroke-width="1.2" stroke-dasharray="1.5,2" stroke-linecap="butt"/>
<line x1="461.7" y1="1434.8" x2="484.8" y2="1434.8" stroke="#000" stroke-width="1.2" stroke-dasharray="1.5,2" stroke-linecap="butt"/>
<line x1="461.7" y1="1353.5" x2="461.7" y2="1434.8" stroke="#000" stroke-width="1.2" stroke-dasharray="1.5,2" stroke-linecap="butt"/>
<rect x="294.3" y="1348.8" width="198.8" height="4.6" fill="#000"/>
<rect x="294.3" y="1298.8" width="4.0" height="28.4" fill="#000"/>
<polygon points="285.2,1313.0 294.8,1308.5 294.8,1317.5" fill="#000"/>
<text x="308.4" y="1310.0" font-family="Liberation Serif" font-size="19" fill="#000" text-anchor="middle" font-weight="normal" textLength="20.5" lengthAdjust="spacing" stroke="#000" stroke-width="0.3">15</text>
<text x="332.6" y="1310.0" font-family="Liberation Serif" font-size="19" fill="#000" text-anchor="middle" font-weight="normal" textLength="20.5" lengthAdjust="spacing" stroke="#000" stroke-width="0.3">14</text>
<text x="355.8" y="1310.0" font-family="Liberation Serif" font-size="19" fill="#000" text-anchor="middle" font-weight="normal" textLength="20.5" lengthAdjust="spacing" stroke="#000" stroke-width="0.3">13</text>
<text x="379.0" y="1310.0" font-family="Liberation Serif" font-size="19" fill="#000" text-anchor="middle" font-weight="normal" textLength="20.5" lengthAdjust="spacing" stroke="#000" stroke-width="0.3">12</text>
<text x="403.2" y="1310.0" font-family="Liberation Serif" font-size="19" fill="#000" text-anchor="middle" font-weight="normal" textLength="20.5" lengthAdjust="spacing" stroke="#000" stroke-width="0.3">11</text>
<text x="426.4" y="1310.0" font-family="Liberation Serif" font-size="19" fill="#000" text-anchor="middle" font-weight="normal" textLength="20.5" lengthAdjust="spacing" stroke="#000" stroke-width="0.3">10</text>
<text x="448.0" y="1309.0" font-family="Liberation Serif" font-size="19" fill="#000" text-anchor="middle" font-weight="normal" stroke="#000" stroke-width="0.3">9</text>
<text x="472.3" y="1309.0" font-family="Liberation Serif" font-size="19" fill="#000" text-anchor="middle" font-weight="normal" stroke="#000" stroke-width="0.3">8</text>
<text x="496.7" y="1309.0" font-family="Liberation Serif" font-size="19" fill="#000" text-anchor="middle" font-weight="normal" stroke="#000" stroke-width="0.3">7</text>
<text x="543.3" y="1309.0" font-family="Liberation Serif" font-size="19" fill="#000" text-anchor="middle" font-weight="normal" stroke="#000" stroke-width="0.3">6</text>
<text x="543.3" y="1344.0" font-family="Liberation Serif" font-size="19" fill="#000" text-anchor="middle" font-weight="normal" stroke="#000" stroke-width="0.3">5</text>
<text x="543.3" y="1372.4" font-family="Liberation Serif" font-size="19" fill="#000" text-anchor="middle" font-weight="normal" stroke="#000" stroke-width="0.3">4</text>
<text x="543.3" y="1418.6" font-family="Liberation Serif" font-size="19" fill="#000" text-anchor="middle" font-weight="normal" stroke="#000" stroke-width="0.3">3</text>
<text x="501.3" y="1418.6" font-family="Liberation Serif" font-size="19" fill="#000" text-anchor="middle" font-weight="normal" stroke="#000" stroke-width="0.3">2</text>
<text x="472.9" y="1418.6" font-family="Liberation Serif" font-size="19" fill="#000" text-anchor="middle" font-weight="normal" stroke="#000" stroke-width="0.3">1</text>
<line x1="292.9" y1="1260.2" x2="567.3" y2="1260.2" stroke="#000" stroke-width="1.8" stroke-linecap="butt"/>
<polygon points="292.9,1260.2 304.9,1255.2 304.9,1265.2" fill="#000"/>
<polygon points="567.3,1260.2 555.3,1255.2 555.3,1265.2" fill="#000"/>
<line x1="292.9" y1="1250.7" x2="292.9" y2="1271.6" stroke="#000" stroke-width="1.8" stroke-linecap="butt"/>
<line x1="567.3" y1="1248.0" x2="567.3" y2="1271.6" stroke="#000" stroke-width="1.8" stroke-linecap="butt"/>
<text x="439.3" y="1254.6" font-family="Liberation Serif" font-size="20.5" fill="#000" text-anchor="middle" font-weight="normal" textLength="79" lengthAdjust="spacing" stroke="#000" stroke-width="0.3">2370 mm</text>
<line x1="284.2" y1="1271.6" x2="284.2" y2="1353.5" stroke="#000" stroke-width="1.8" stroke-linecap="butt"/>
<polygon points="284.2,1271.6 279.2,1283.6 289.2,1283.6" fill="#000"/>
<polygon points="284.2,1353.5 279.2,1341.5 289.2,1341.5" fill="#000"/>
<line x1="278.2" y1="1271.6" x2="295.9" y2="1271.6" stroke="#000" stroke-width="1.8" stroke-linecap="butt"/>
<line x1="278.2" y1="1353.5" x2="295.9" y2="1353.5" stroke="#000" stroke-width="1.8" stroke-linecap="butt"/>
<text transform="translate(277.2,1311.6) rotate(-90)" font-family="Liberation Serif" font-size="20.5" fill="#000" text-anchor="middle" font-weight="normal" textLength="66.6" lengthAdjust="spacing" stroke="#000" stroke-width="0.3">750 mm</text>
<line x1="452.5" y1="1354.7" x2="452.5" y2="1433.6" stroke="#000" stroke-width="1.8" stroke-linecap="butt"/>
<polygon points="452.5,1354.7 447.5,1366.7 457.5,1366.7" fill="#000"/>
<polygon points="452.5,1433.6 447.5,1421.6 457.5,1421.6" fill="#000"/>
<line x1="440.4" y1="1435.1" x2="461.7" y2="1435.1" stroke="#000" stroke-width="1.8" stroke-linecap="butt"/>
<text transform="translate(445.7,1396.4) rotate(-90)" font-family="Liberation Serif" font-size="20.5" fill="#000" text-anchor="middle" font-weight="normal" textLength="65.6" lengthAdjust="spacing" stroke="#000" stroke-width="0.3">750 mm</text>
<line x1="461.7" y1="1449.6" x2="567.3" y2="1449.6" stroke="#000" stroke-width="1.8" stroke-linecap="butt"/>
<polygon points="461.7,1449.6 473.7,1444.6 473.7,1454.6" fill="#000"/>
<polygon points="567.3,1449.6 555.3,1444.6 555.3,1454.6" fill="#000"/>
<line x1="461.7" y1="1435.1" x2="461.7" y2="1453.0" stroke="#000" stroke-width="1.8" stroke-linecap="butt"/>
<line x1="567.3" y1="1435.1" x2="567.3" y2="1453.0" stroke="#000" stroke-width="1.8" stroke-linecap="butt"/>
<text x="513.6" y="1472.1" font-family="Liberation Serif" font-size="20.5" fill="#000" text-anchor="middle" font-weight="normal" textLength="68.4" lengthAdjust="spacing" stroke="#000" stroke-width="0.3">950 mm</text>
<line x1="582.3" y1="1271.6" x2="582.3" y2="1303.2" stroke="#000" stroke-width="1.8" stroke-linecap="butt"/>
<line x1="582.3" y1="1399.9" x2="582.3" y2="1435.0" stroke="#000" stroke-width="1.8" stroke-linecap="butt"/>
<polygon points="582.3,1271.6 577.3,1283.6 587.3,1283.6" fill="#000"/>
<polygon points="582.3,1435.0 577.3,1423.0 587.3,1423.0" fill="#000"/>
<line x1="568.7" y1="1271.6" x2="588.6" y2="1271.6" stroke="#000" stroke-width="1.8" stroke-linecap="butt"/>
<line x1="568.7" y1="1435.1" x2="588.6" y2="1435.1" stroke="#000" stroke-width="1.8" stroke-linecap="butt"/>
<text transform="translate(596.5,1350.3) rotate(-90)" font-family="Liberation Serif" font-size="20.5" fill="#000" text-anchor="middle" font-weight="normal" textLength="78.1" lengthAdjust="spacing" stroke="#000" stroke-width="0.3">1440 mm</text>
<line x1="611.6" y1="1269.0" x2="611.6" y2="1303.2" stroke="#ff0000" stroke-width="1.8" stroke-linecap="butt"/>
<line x1="611.6" y1="1399.9" x2="611.6" y2="1439.9" stroke="#ff0000" stroke-width="1.8" stroke-linecap="butt"/>
<polygon points="611.6,1269.0 605.6,1280.0 617.6,1280.0" fill="#ff0000"/>
<polygon points="611.6,1439.9 605.6,1428.9 617.6,1428.9" fill="#ff0000"/>
<text transform="translate(603.6,1352.9) rotate(90)" font-family="Liberation Serif" font-size="20.5" fill="#c00018" text-anchor="middle" font-weight="normal" textLength="78" lengthAdjust="spacing" stroke="#c00018" stroke-width="0.3">1480 mm</text>
<rect x="570.5" y="1219.4" width="53.2" height="47.5" fill="#fff" stroke="#000" stroke-width="1.5"/>
<text x="595.7" y="1252.5" font-family="Liberation Serif" font-size="26" fill="#000" text-anchor="middle" font-weight="normal" stroke="#000" stroke-width="0.3">38</text>
<line x1="573.0" y1="1439.0" x2="627.0" y2="1439.0" stroke="#d09040" stroke-width="1.6" stroke-linecap="butt"/>
<line x1="573.0" y1="1439.0" x2="627.0" y2="1439.0" stroke="#000" stroke-width="1.6" stroke-dasharray="1.5,2.5" stroke-linecap="butt"/>
<rect x="712.8" y="1353.5" width="26.1" height="81.3" fill="#d9d9d9"/>
<rect x="627.0" y="1268.9" width="280.5" height="171.0" fill="none" stroke="#ff0000" stroke-width="2"/>
<line x1="904.8" y1="1359.8" x2="721.0" y2="1359.8" stroke="#ff0000" stroke-width="2" stroke-dasharray="2,3" stroke-linecap="butt"/>
<line x1="721.0" y1="1359.8" x2="721.0" y2="1439.9" stroke="#ff0000" stroke-width="2" stroke-dasharray="2,3" stroke-linecap="butt"/>
<line x1="904.8" y1="1271.6" x2="629.7" y2="1271.6" stroke="#000" stroke-width="1.8" stroke-linecap="butt"/>
<line x1="904.8" y1="1271.6" x2="904.8" y2="1353.5" stroke="#000" stroke-width="1.8" stroke-linecap="butt"/>
<line x1="629.7" y1="1271.6" x2="629.7" y2="1435.1" stroke="#000" stroke-width="1.8" stroke-linecap="butt"/>
<line x1="904.8" y1="1312.8" x2="670.9" y2="1312.8" stroke="#000" stroke-width="1.8" stroke-linecap="butt"/>
<line x1="670.9" y1="1312.8" x2="670.9" y2="1395.8" stroke="#000" stroke-width="1.8" stroke-linecap="butt"/>
<line x1="877.8" y1="1271.6" x2="877.8" y2="1353.5" stroke="#000" stroke-width="1.8" stroke-linecap="butt"/>
<line x1="854.4" y1="1271.6" x2="854.4" y2="1353.5" stroke="#000" stroke-width="1.8" stroke-linecap="butt"/>
<line x1="830.8" y1="1271.6" x2="830.8" y2="1353.5" stroke="#000" stroke-width="1.8" stroke-linecap="butt"/>
<line x1="806.9" y1="1271.6" x2="806.9" y2="1353.5" stroke="#000" stroke-width="1.8" stroke-linecap="butt"/>
<line x1="783.3" y1="1271.6" x2="783.3" y2="1353.5" stroke="#000" stroke-width="1.8" stroke-linecap="butt"/>
<line x1="759.7" y1="1271.6" x2="759.7" y2="1353.5" stroke="#000" stroke-width="1.8" stroke-linecap="butt"/>
<line x1="736.0" y1="1271.6" x2="736.0" y2="1353.5" stroke="#000" stroke-width="1.8" stroke-linecap="butt"/>
<line x1="712.8" y1="1271.6" x2="712.8" y2="1353.5" stroke="#000" stroke-width="1.8" stroke-linecap="butt"/>
<line x1="712.8" y1="1353.5" x2="712.8" y2="1435.1" stroke="#000" stroke-width="1.8" stroke-linecap="butt"/>
<line x1="904.8" y1="1355.0" x2="629.7" y2="1355.0" stroke="#000" stroke-width="1.8" stroke-linecap="butt"/>
<line x1="712.8" y1="1435.1" x2="629.7" y2="1435.1" stroke="#000" stroke-width="1.8" stroke-linecap="butt"/>
<line x1="738.9" y1="1395.8" x2="670.9" y2="1395.8" stroke="#000" stroke-width="1.8" stroke-linecap="butt"/>
<line x1="712.8" y1="1353.0" x2="664.8" y2="1271.6" stroke="#000" stroke-width="1.6" stroke-linecap="butt"/>
<line x1="712.8" y1="1353.0" x2="629.7" y2="1311.2" stroke="#000" stroke-width="1.6" stroke-linecap="butt"/>
<line x1="712.8" y1="1353.0" x2="629.7" y2="1394.1" stroke="#000" stroke-width="1.6" stroke-linecap="butt"/>
<line x1="712.8" y1="1353.0" x2="664.8" y2="1435.1" stroke="#000" stroke-width="1.6" stroke-linecap="butt"/>
<line x1="738.9" y1="1353.5" x2="712.8" y2="1353.5" stroke="#000" stroke-width="1.2" stroke-dasharray="1.5,2" stroke-linecap="butt"/>
<line x1="738.9" y1="1434.8" x2="712.8" y2="1434.8" stroke="#000" stroke-width="1.2" stroke-dasharray="1.5,2" stroke-linecap="butt"/>
<line x1="738.9" y1="1353.5" x2="738.9" y2="1434.8" stroke="#000" stroke-width="1.2" stroke-dasharray="1.5,2" stroke-linecap="butt"/>
<rect x="707.2" y="1348.8" width="199.0" height="4.6" fill="#000"/>
<rect x="902.4" y="1298.8" width="3.8" height="28.4" fill="#000"/>
<polygon points="914.4,1313.0 905.8,1308.5 905.8,1317.5" fill="#000"/>
<text x="651.7" y="1308.3" font-family="Liberation Serif" font-size="19" fill="#000" text-anchor="middle" font-weight="normal" stroke="#000" stroke-width="0.3">6</text>
<text x="696.4" y="1308.3" font-family="Liberation Serif" font-size="19" fill="#000" text-anchor="middle" font-weight="normal" stroke="#000" stroke-width="0.3">7</text>
<text x="723.0" y="1308.3" font-family="Liberation Serif" font-size="19" fill="#000" text-anchor="middle" font-weight="normal" stroke="#000" stroke-width="0.3">8</text>
<text x="746.5" y="1308.3" font-family="Liberation Serif" font-size="19" fill="#000" text-anchor="middle" font-weight="normal" stroke="#000" stroke-width="0.3">9</text>
<text x="771.8" y="1308.3" font-family="Liberation Serif" font-size="19" fill="#000" text-anchor="middle" font-weight="normal" textLength="20.5" lengthAdjust="spacing" stroke="#000" stroke-width="0.3">10</text>
<text x="794.3" y="1308.3" font-family="Liberation Serif" font-size="19" fill="#000" text-anchor="middle" font-weight="normal" textLength="20.5" lengthAdjust="spacing" stroke="#000" stroke-width="0.3">11</text>
<text x="818.4" y="1308.3" font-family="Liberation Serif" font-size="19" fill="#000" text-anchor="middle" font-weight="normal" textLength="20.5" lengthAdjust="spacing" stroke="#000" stroke-width="0.3">12</text>
<text x="842.5" y="1308.3" font-family="Liberation Serif" font-size="19" fill="#000" text-anchor="middle" font-weight="normal" textLength="20.5" lengthAdjust="spacing" stroke="#000" stroke-width="0.3">13</text>
<text x="865.5" y="1308.3" font-family="Liberation Serif" font-size="19" fill="#000" text-anchor="middle" font-weight="normal" textLength="20.5" lengthAdjust="spacing" stroke="#000" stroke-width="0.3">14</text>
<text x="889.1" y="1308.3" font-family="Liberation Serif" font-size="19" fill="#000" text-anchor="middle" font-weight="normal" textLength="20.5" lengthAdjust="spacing" stroke="#000" stroke-width="0.3">15</text>
<text x="651.7" y="1344.8" font-family="Liberation Serif" font-size="19" fill="#000" text-anchor="middle" font-weight="normal" stroke="#000" stroke-width="0.3">5</text>
<text x="651.7" y="1375.7" font-family="Liberation Serif" font-size="19" fill="#000" text-anchor="middle" font-weight="normal" stroke="#000" stroke-width="0.3">4</text>
<text x="651.7" y="1418.8" font-family="Liberation Serif" font-size="19" fill="#000" text-anchor="middle" font-weight="normal" stroke="#000" stroke-width="0.3">3</text>
<text x="696.4" y="1418.8" font-family="Liberation Serif" font-size="19" fill="#000" text-anchor="middle" font-weight="normal" stroke="#000" stroke-width="0.3">2</text>
<text x="726.5" y="1418.8" font-family="Liberation Serif" font-size="19" fill="#000" text-anchor="middle" font-weight="normal" stroke="#000" stroke-width="0.3">1</text>
<line x1="627.0" y1="1259.8" x2="907.5" y2="1259.8" stroke="#c8141e" stroke-width="1.8" stroke-linecap="butt"/>
<polygon points="627.0,1259.8 638.0,1253.8 638.0,1265.8" fill="#ff0000"/>
<polygon points="907.5,1259.8 896.5,1253.8 896.5,1265.8" fill="#ff0000"/>
<line x1="627.0" y1="1252.0" x2="627.0" y2="1269.4" stroke="#c8141e" stroke-width="1.8" stroke-linecap="butt"/>
<line x1="907.5" y1="1252.0" x2="907.5" y2="1269.4" stroke="#c8141e" stroke-width="1.8" stroke-linecap="butt"/>
<text x="768.0" y="1254.3" font-family="Liberation Serif" font-size="20.5" fill="#c00018" text-anchor="middle" font-weight="normal" textLength="79" lengthAdjust="spacing" stroke="#c00018" stroke-width="0.3">2390 mm</text>
<line x1="916.6" y1="1269.4" x2="916.6" y2="1359.8" stroke="#c8141e" stroke-width="1.8" stroke-linecap="butt"/>
<polygon points="916.6,1269.4 910.6,1280.4 922.6,1280.4" fill="#ff0000"/>
<polygon points="916.6,1359.8 910.6,1348.8 922.6,1348.8" fill="#ff0000"/>
<line x1="907.5" y1="1269.4" x2="925.0" y2="1269.4" stroke="#c8141e" stroke-width="1.8" stroke-linecap="butt"/>
<line x1="907.5" y1="1359.8" x2="925.0" y2="1359.8" stroke="#c8141e" stroke-width="1.8" stroke-linecap="butt"/>
<text transform="translate(922.6,1313.2) rotate(90)" font-family="Liberation Serif" font-size="20.5" fill="#c00018" text-anchor="middle" font-weight="normal" textLength="68.5" lengthAdjust="spacing" stroke="#c00018" stroke-width="0.3">850 mm</text>
<line x1="627.0" y1="1449.0" x2="721.0" y2="1449.0" stroke="#c8141e" stroke-width="1.8" stroke-linecap="butt"/>
<polygon points="627.0,1449.0 638.0,1443.0 638.0,1455.0" fill="#ff0000"/>
<polygon points="721.0,1449.0 710.0,1443.0 710.0,1455.0" fill="#ff0000"/>
<line x1="627.0" y1="1439.4" x2="627.0" y2="1456.0" stroke="#c8141e" stroke-width="1.8" stroke-linecap="butt"/>
<line x1="721.0" y1="1439.4" x2="721.0" y2="1456.0" stroke="#c8141e" stroke-width="1.8" stroke-linecap="butt"/>
<text x="672.5" y="1471.7" font-family="Liberation Serif" font-size="20.5" fill="#c00018" text-anchor="middle" font-weight="normal" textLength="67" lengthAdjust="spacing" stroke="#c00018" stroke-width="0.3">850 mm</text>
<rect x="266.1" y="1503.5" width="304.4" height="170.5" fill="none" stroke="#ff0000" stroke-width="2"/>
<line x1="268.8" y1="1598.0" x2="476.4" y2="1598.0" stroke="#ff0000" stroke-width="2" stroke-dasharray="2,3" stroke-linecap="butt"/>
<line x1="476.4" y1="1598.0" x2="476.4" y2="1674.0" stroke="#ff0000" stroke-width="2" stroke-dasharray="2,3" stroke-linecap="butt"/>
<line x1="268.8" y1="1507.5" x2="566.0" y2="1507.5" stroke="#000" stroke-width="1.8" stroke-linecap="butt"/>
<line x1="268.8" y1="1507.5" x2="268.8" y2="1589.0" stroke="#000" stroke-width="1.8" stroke-linecap="butt"/>
<line x1="566.0" y1="1507.5" x2="566.0" y2="1670.1" stroke="#000" stroke-width="1.8" stroke-linecap="butt"/>
<line x1="268.8" y1="1548.3" x2="523.4" y2="1548.3" stroke="#000" stroke-width="1.8" stroke-linecap="butt"/>
<line x1="523.4" y1="1548.3" x2="523.4" y2="1628.8" stroke="#000" stroke-width="1.8" stroke-linecap="butt"/>
<line x1="296.0" y1="1507.5" x2="296.0" y2="1589.0" stroke="#000" stroke-width="1.8" stroke-linecap="butt"/>
<line x1="319.7" y1="1507.5" x2="319.7" y2="1589.0" stroke="#000" stroke-width="1.8" stroke-linecap="butt"/>
<line x1="343.2" y1="1507.5" x2="343.2" y2="1589.0" stroke="#000" stroke-width="1.8" stroke-linecap="butt"/>
<line x1="367.3" y1="1507.5" x2="367.3" y2="1589.0" stroke="#000" stroke-width="1.8" stroke-linecap="butt"/>
<line x1="391.0" y1="1507.5" x2="391.0" y2="1589.0" stroke="#000" stroke-width="1.8" stroke-linecap="butt"/>
<line x1="414.5" y1="1507.5" x2="414.5" y2="1589.0" stroke="#000" stroke-width="1.8" stroke-linecap="butt"/>
<line x1="438.0" y1="1507.5" x2="438.0" y2="1589.0" stroke="#000" stroke-width="1.8" stroke-linecap="butt"/>
<line x1="461.5" y1="1507.5" x2="461.5" y2="1589.0" stroke="#000" stroke-width="1.8" stroke-linecap="butt"/>
<line x1="484.8" y1="1507.5" x2="484.8" y2="1589.0" stroke="#000" stroke-width="1.8" stroke-linecap="butt"/>
<line x1="482.1" y1="1589.0" x2="482.1" y2="1670.1" stroke="#000" stroke-width="1.8" stroke-linecap="butt"/>
<line x1="268.8" y1="1589.0" x2="566.0" y2="1589.0" stroke="#000" stroke-width="1.8" stroke-linecap="butt"/>
<line x1="482.1" y1="1670.1" x2="566.0" y2="1670.1" stroke="#000" stroke-width="1.8" stroke-linecap="butt"/>
<line x1="482.1" y1="1628.8" x2="523.4" y2="1628.8" stroke="#000" stroke-width="1.8" stroke-linecap="butt"/>
<line x1="483.9" y1="1588.5" x2="529.7" y2="1507.8" stroke="#000" stroke-width="1.6" stroke-linecap="butt"/>
<line x1="483.9" y1="1588.5" x2="566.0" y2="1546.3" stroke="#000" stroke-width="1.6" stroke-linecap="butt"/>
<line x1="483.9" y1="1588.5" x2="566.0" y2="1628.8" stroke="#000" stroke-width="1.6" stroke-linecap="butt"/>
<line x1="483.9" y1="1588.5" x2="528.6" y2="1670.1" stroke="#000" stroke-width="1.6" stroke-linecap="butt"/>
<rect x="267.2" y="1585.3" width="219.3" height="6.0" fill="#000"/>
<rect x="267.7" y="1534.4" width="3.6" height="28.4" fill="#000"/>
<polygon points="259.4,1548.6 268.2,1544.1 268.2,1553.1" fill="#000"/>
<text x="283.5" y="1543.4" font-family="Liberation Serif" font-size="19" fill="#000" text-anchor="middle" font-weight="normal" textLength="20.5" lengthAdjust="spacing" stroke="#000" stroke-width="0.3">15</text>
<text x="307.6" y="1545.1" font-family="Liberation Serif" font-size="19" fill="#000" text-anchor="middle" font-weight="normal" textLength="20.5" lengthAdjust="spacing" stroke="#000" stroke-width="0.3">14</text>
<text x="331.1" y="1543.4" font-family="Liberation Serif" font-size="19" fill="#000" text-anchor="middle" font-weight="normal" textLength="20.5" lengthAdjust="spacing" stroke="#000" stroke-width="0.3">13</text>
<text x="355.4" y="1543.4" font-family="Liberation Serif" font-size="19" fill="#000" text-anchor="middle" font-weight="normal" textLength="20.5" lengthAdjust="spacing" stroke="#000" stroke-width="0.3">12</text>
<text x="377.8" y="1543.4" font-family="Liberation Serif" font-size="19" fill="#000" text-anchor="middle" font-weight="normal" textLength="20.5" lengthAdjust="spacing" stroke="#000" stroke-width="0.3">11</text>
<text x="402.0" y="1543.4" font-family="Liberation Serif" font-size="19" fill="#000" text-anchor="middle" font-weight="normal" textLength="20.5" lengthAdjust="spacing" stroke="#000" stroke-width="0.3">10</text>
<text x="422.5" y="1545.1" font-family="Liberation Serif" font-size="19" fill="#000" text-anchor="middle" font-weight="normal" stroke="#000" stroke-width="0.3">9</text>
<text x="445.2" y="1544.5" font-family="Liberation Serif" font-size="19" fill="#000" text-anchor="middle" font-weight="normal" stroke="#000" stroke-width="0.3">8</text>
<text x="469.3" y="1544.5" font-family="Liberation Serif" font-size="19" fill="#000" text-anchor="middle" font-weight="normal" stroke="#000" stroke-width="0.3">7</text>
<text x="493.1" y="1544.5" font-family="Liberation Serif" font-size="19" fill="#000" text-anchor="middle" font-weight="normal" stroke="#000" stroke-width="0.3">6</text>
<text x="539.8" y="1544.5" font-family="Liberation Serif" font-size="19" fill="#000" text-anchor="middle" font-weight="normal" stroke="#000" stroke-width="0.3">5</text>
<text x="539.8" y="1578.6" font-family="Liberation Serif" font-size="19" fill="#000" text-anchor="middle" font-weight="normal" stroke="#000" stroke-width="0.3">4</text>
<text x="539.8" y="1605.2" font-family="Liberation Serif" font-size="19" fill="#000" text-anchor="middle" font-weight="normal" stroke="#000" stroke-width="0.3">3</text>
<text x="539.8" y="1652.8" font-family="Liberation Serif" font-size="19" fill="#000" text-anchor="middle" font-weight="normal" stroke="#000" stroke-width="0.3">2</text>
<text x="497.7" y="1652.8" font-family="Liberation Serif" font-size="19" fill="#000" text-anchor="middle" font-weight="normal" stroke="#000" stroke-width="0.3">1</text>
<line x1="266.7" y1="1494.7" x2="564.6" y2="1494.7" stroke="#000" stroke-width="1.8" stroke-linecap="butt"/>
<polygon points="266.7,1494.7 278.7,1489.7 278.7,1499.7" fill="#000"/>
<polygon points="564.6,1494.7 552.6,1489.7 552.6,1499.7" fill="#000"/>
<line x1="266.7" y1="1485.7" x2="266.7" y2="1507.5" stroke="#000" stroke-width="1.8" stroke-linecap="butt"/>
<line x1="564.6" y1="1484.0" x2="564.6" y2="1507.5" stroke="#000" stroke-width="1.8" stroke-linecap="butt"/>
<text x="415.3" y="1490.3" font-family="Liberation Serif" font-size="20.5" fill="#000" text-anchor="middle" font-weight="normal" textLength="79" lengthAdjust="spacing" stroke="#000" stroke-width="0.3">2570 mm</text>
<line x1="257.9" y1="1507.5" x2="257.9" y2="1589.0" stroke="#000" stroke-width="1.8" stroke-linecap="butt"/>
<polygon points="257.9,1507.5 252.9,1519.5 262.9,1519.5" fill="#000"/>
<polygon points="257.9,1589.0 252.9,1577.0 262.9,1577.0" fill="#000"/>
<line x1="248.9" y1="1507.5" x2="268.8" y2="1507.5" stroke="#000" stroke-width="1.8" stroke-linecap="butt"/>
<line x1="248.9" y1="1589.0" x2="268.8" y2="1589.0" stroke="#000" stroke-width="1.8" stroke-linecap="butt"/>
<text transform="translate(251.0,1549.2) rotate(-90)" font-family="Liberation Serif" font-size="20.5" fill="#000" text-anchor="middle" font-weight="normal" textLength="68" lengthAdjust="spacing" stroke="#000" stroke-width="0.3">750 mm</text>
<line x1="470.6" y1="1590.7" x2="470.6" y2="1669.6" stroke="#000" stroke-width="1.8" stroke-linecap="butt"/>
<polygon points="470.6,1590.7 465.6,1602.7 475.6,1602.7" fill="#000"/>
<polygon points="470.6,1669.6 465.6,1657.6 475.6,1657.6" fill="#000"/>
<line x1="460.8" y1="1670.1" x2="482.1" y2="1670.1" stroke="#000" stroke-width="1.8" stroke-linecap="butt"/>
<text transform="translate(463.5,1629.3) rotate(-90)" font-family="Liberation Serif" font-size="20.5" fill="#000" text-anchor="middle" font-weight="normal" textLength="68.3" lengthAdjust="spacing" stroke="#000" stroke-width="0.3">750 mm</text>
<line x1="482.1" y1="1682.0" x2="564.6" y2="1682.0" stroke="#000" stroke-width="1.8" stroke-linecap="butt"/>
<polygon points="482.1,1682.0 494.1,1677.0 494.1,1687.0" fill="#000"/>
<polygon points="564.6,1682.0 552.6,1677.0 552.6,1687.0" fill="#000"/>
<line x1="482.1" y1="1670.1" x2="482.1" y2="1687.4" stroke="#000" stroke-width="1.8" stroke-linecap="butt"/>
<line x1="564.6" y1="1670.1" x2="564.6" y2="1687.4" stroke="#000" stroke-width="1.8" stroke-linecap="butt"/>
<text x="523.8" y="1706.0" font-family="Liberation Serif" font-size="20.5" fill="#000" text-anchor="middle" font-weight="normal" textLength="67.4" lengthAdjust="spacing" stroke="#000" stroke-width="0.3">750 mm</text>
<line x1="579.7" y1="1506.4" x2="579.7" y2="1538.3" stroke="#000" stroke-width="1.8" stroke-linecap="butt"/>
<line x1="579.7" y1="1634.1" x2="579.7" y2="1669.6" stroke="#000" stroke-width="1.8" stroke-linecap="butt"/>
<polygon points="579.7,1506.4 574.7,1518.4 584.7,1518.4" fill="#000"/>
<polygon points="579.7,1669.6 574.7,1657.6 584.7,1657.6" fill="#000"/>
<line x1="566.0" y1="1507.5" x2="585.9" y2="1507.5" stroke="#000" stroke-width="1.8" stroke-linecap="butt"/>
<line x1="566.0" y1="1670.1" x2="585.9" y2="1670.1" stroke="#000" stroke-width="1.8" stroke-linecap="butt"/>
<text transform="translate(593.0,1584.5) rotate(-90)" font-family="Liberation Serif" font-size="20.5" fill="#000" text-anchor="middle" font-weight="normal" textLength="78.1" lengthAdjust="spacing" stroke="#000" stroke-width="0.3">1440 mm</text>
<line x1="609.0" y1="1503.7" x2="609.0" y2="1538.3" stroke="#ff0000" stroke-width="1.8" stroke-linecap="butt"/>
<line x1="609.0" y1="1634.1" x2="609.0" y2="1674.0" stroke="#ff0000" stroke-width="1.8" stroke-linecap="butt"/>
<polygon points="609.0,1503.7 603.0,1514.7 615.0,1514.7" fill="#ff0000"/>
<polygon points="609.0,1674.0 603.0,1663.0 615.0,1663.0" fill="#ff0000"/>
<text transform="translate(600.6,1587.0) rotate(90)" font-family="Liberation Serif" font-size="20.5" fill="#c00018" text-anchor="middle" font-weight="normal" textLength="77.7" lengthAdjust="spacing" stroke="#c00018" stroke-width="0.3">1480 mm</text>
<rect x="567.6" y="1455.0" width="53.8" height="46.9" fill="#fff" stroke="#000" stroke-width="1.5"/>
<text x="593.0" y="1488.0" font-family="Liberation Serif" font-size="26" fill="#000" text-anchor="middle" font-weight="normal" stroke="#000" stroke-width="0.3">39</text>
<line x1="570.5" y1="1673.2" x2="624.0" y2="1673.2" stroke="#ff0000" stroke-width="1.3" stroke-dasharray="1.5,2.5" stroke-linecap="butt"/>
<rect x="623.9" y="1503.5" width="304.6" height="170.5" fill="none" stroke="#ff0000" stroke-width="2"/>
<line x1="925.5" y1="1594.8" x2="718.0" y2="1594.8" stroke="#ff0000" stroke-width="2" stroke-dasharray="2,3" stroke-linecap="butt"/>
<line x1="718.0" y1="1594.8" x2="718.0" y2="1674.0" stroke="#ff0000" stroke-width="2" stroke-dasharray="2,3" stroke-linecap="butt"/>
<line x1="925.5" y1="1507.5" x2="627.0" y2="1507.5" stroke="#000" stroke-width="1.8" stroke-linecap="butt"/>
<line x1="925.5" y1="1507.5" x2="925.5" y2="1589.0" stroke="#000" stroke-width="1.8" stroke-linecap="butt"/>
<line x1="627.0" y1="1507.5" x2="627.0" y2="1670.1" stroke="#000" stroke-width="1.8" stroke-linecap="butt"/>
<line x1="925.5" y1="1548.3" x2="668.0" y2="1548.3" stroke="#000" stroke-width="1.8" stroke-linecap="butt"/>
<line x1="668.0" y1="1548.3" x2="668.0" y2="1628.8" stroke="#000" stroke-width="1.8" stroke-linecap="butt"/>
<line x1="898.3" y1="1507.5" x2="898.3" y2="1589.0" stroke="#000" stroke-width="1.8" stroke-linecap="butt"/>
<line x1="874.6" y1="1507.5" x2="874.6" y2="1589.0" stroke="#000" stroke-width="1.8" stroke-linecap="butt"/>
<line x1="851.1" y1="1507.5" x2="851.1" y2="1589.0" stroke="#000" stroke-width="1.8" stroke-linecap="butt"/>
<line x1="827.0" y1="1507.5" x2="827.0" y2="1589.0" stroke="#000" stroke-width="1.8" stroke-linecap="butt"/>
<line x1="803.4" y1="1507.5" x2="803.4" y2="1589.0" stroke="#000" stroke-width="1.8" stroke-linecap="butt"/>
<line x1="779.9" y1="1507.5" x2="779.9" y2="1589.0" stroke="#000" stroke-width="1.8" stroke-linecap="butt"/>
<line x1="756.4" y1="1507.5" x2="756.4" y2="1589.0" stroke="#000" stroke-width="1.8" stroke-linecap="butt"/>
<line x1="732.9" y1="1507.5" x2="732.9" y2="1589.0" stroke="#000" stroke-width="1.8" stroke-linecap="butt"/>
<line x1="709.7" y1="1507.5" x2="709.7" y2="1589.0" stroke="#000" stroke-width="1.8" stroke-linecap="butt"/>
<line x1="710.9" y1="1589.0" x2="710.9" y2="1670.1" stroke="#000" stroke-width="1.8" stroke-linecap="butt"/>
<line x1="925.5" y1="1589.0" x2="627.0" y2="1589.0" stroke="#000" stroke-width="1.8" stroke-linecap="butt"/>
<line x1="710.9" y1="1670.1" x2="627.0" y2="1670.1" stroke="#000" stroke-width="1.8" stroke-linecap="butt"/>
<line x1="710.9" y1="1628.8" x2="668.0" y2="1628.8" stroke="#000" stroke-width="1.8" stroke-linecap="butt"/>
<line x1="710.1" y1="1588.5" x2="661.9" y2="1507.8" stroke="#000" stroke-width="1.6" stroke-linecap="butt"/>
<line x1="710.1" y1="1588.5" x2="627.0" y2="1546.3" stroke="#000" stroke-width="1.6" stroke-linecap="butt"/>
<line x1="710.1" y1="1588.5" x2="627.0" y2="1628.8" stroke="#000" stroke-width="1.6" stroke-linecap="butt"/>
<line x1="710.1" y1="1588.5" x2="663.0" y2="1670.1" stroke="#000" stroke-width="1.6" stroke-linecap="butt"/>
<rect x="707.9" y="1585.3" width="219.4" height="6.0" fill="#000"/>
<rect x="923.0" y="1534.4" width="3.7" height="28.4" fill="#000"/>
<polygon points="935.9,1548.6 926.2,1544.1 926.2,1553.1" fill="#000"/>
<text x="648.4" y="1540.3" font-family="Liberation Serif" font-size="19" fill="#000" text-anchor="middle" font-weight="normal" stroke="#000" stroke-width="0.3">5</text>
<text x="693.5" y="1542.7" font-family="Liberation Serif" font-size="19" fill="#000" text-anchor="middle" font-weight="normal" stroke="#000" stroke-width="0.3">6</text>
<text x="720.4" y="1542.7" font-family="Liberation Serif" font-size="19" fill="#000" text-anchor="middle" font-weight="normal" stroke="#000" stroke-width="0.3">7</text>
<text x="744.0" y="1542.7" font-family="Liberation Serif" font-size="19" fill="#000" text-anchor="middle" font-weight="normal" stroke="#000" stroke-width="0.3">8</text>
<text x="769.5" y="1542.7" font-family="Liberation Serif" font-size="19" fill="#000" text-anchor="middle" font-weight="normal" stroke="#000" stroke-width="0.3">9</text>
<text x="791.5" y="1542.7" font-family="Liberation Serif" font-size="19" fill="#000" text-anchor="middle" font-weight="normal" textLength="20.5" lengthAdjust="spacing" stroke="#000" stroke-width="0.3">10</text>
<text x="814.5" y="1542.7" font-family="Liberation Serif" font-size="19" fill="#000" text-anchor="middle" font-weight="normal" textLength="20.5" lengthAdjust="spacing" stroke="#000" stroke-width="0.3">11</text>
<text x="839.0" y="1542.7" font-family="Liberation Serif" font-size="19" fill="#000" text-anchor="middle" font-weight="normal" textLength="20.5" lengthAdjust="spacing" stroke="#000" stroke-width="0.3">12</text>
<text x="863.0" y="1542.7" font-family="Liberation Serif" font-size="19" fill="#000" text-anchor="middle" font-weight="normal" textLength="20.5" lengthAdjust="spacing" stroke="#000" stroke-width="0.3">13</text>
<text x="886.5" y="1542.7" font-family="Liberation Serif" font-size="19" fill="#000" text-anchor="middle" font-weight="normal" textLength="20.5" lengthAdjust="spacing" stroke="#000" stroke-width="0.3">14</text>
<text x="910.1" y="1542.7" font-family="Liberation Serif" font-size="19" fill="#000" text-anchor="middle" font-weight="normal" textLength="20.5" lengthAdjust="spacing" stroke="#000" stroke-width="0.3">15</text>
<text x="648.4" y="1578.9" font-family="Liberation Serif" font-size="19" fill="#000" text-anchor="middle" font-weight="normal" stroke="#000" stroke-width="0.3">4</text>
<text x="648.4" y="1611.7" font-family="Liberation Serif" font-size="19" fill="#000" text-anchor="middle" font-weight="normal" stroke="#000" stroke-width="0.3">3</text>
<text x="648.4" y="1653.7" font-family="Liberation Serif" font-size="19" fill="#000" text-anchor="middle" font-weight="normal" stroke="#000" stroke-width="0.3">2</text>
<text x="694.4" y="1653.7" font-family="Liberation Serif" font-size="19" fill="#000" text-anchor="middle" font-weight="normal" stroke="#000" stroke-width="0.3">1</text>
<line x1="623.9" y1="1496.2" x2="928.5" y2="1496.2" stroke="#c8141e" stroke-width="1.8" stroke-linecap="butt"/>
<polygon points="623.9,1496.2 634.9,1490.2 634.9,1502.2" fill="#ff0000"/>
<polygon points="928.5,1496.2 917.5,1490.2 917.5,1502.2" fill="#ff0000"/>
<line x1="623.9" y1="1488.0" x2="623.9" y2="1503.5" stroke="#c8141e" stroke-width="1.8" stroke-linecap="butt"/>
<line x1="928.5" y1="1488.0" x2="928.5" y2="1503.5" stroke="#c8141e" stroke-width="1.8" stroke-linecap="butt"/>
<text x="774.6" y="1490.6" font-family="Liberation Serif" font-size="20.5" fill="#c00018" text-anchor="middle" font-weight="normal" textLength="79.7" lengthAdjust="spacing" stroke="#c00018" stroke-width="0.3">2590 mm</text>
<line x1="937.1" y1="1503.5" x2="937.1" y2="1594.8" stroke="#c8141e" stroke-width="1.8" stroke-linecap="butt"/>
<polygon points="937.1,1503.5 931.1,1514.5 943.1,1514.5" fill="#ff0000"/>
<polygon points="937.1,1594.8 931.1,1583.8 943.1,1583.8" fill="#ff0000"/>
<line x1="928.5" y1="1503.5" x2="946.0" y2="1503.5" stroke="#c8141e" stroke-width="1.8" stroke-linecap="butt"/>
<line x1="928.5" y1="1594.8" x2="946.0" y2="1594.8" stroke="#c8141e" stroke-width="1.8" stroke-linecap="butt"/>
<text transform="translate(941.7,1548.6) rotate(90)" font-family="Liberation Serif" font-size="20.5" fill="#c00018" text-anchor="middle" font-weight="normal" textLength="68" lengthAdjust="spacing" stroke="#c00018" stroke-width="0.3">850 mm</text>
<line x1="623.9" y1="1685.3" x2="718.0" y2="1685.3" stroke="#c8141e" stroke-width="1.8" stroke-linecap="butt"/>
<polygon points="623.9,1685.3 634.9,1679.3 634.9,1691.3" fill="#ff0000"/>
<polygon points="718.0,1685.3 707.0,1679.3 707.0,1691.3" fill="#ff0000"/>
<line x1="623.9" y1="1674.5" x2="623.9" y2="1690.0" stroke="#c8141e" stroke-width="1.8" stroke-linecap="butt"/>
<line x1="718.0" y1="1674.5" x2="718.0" y2="1690.0" stroke="#c8141e" stroke-width="1.8" stroke-linecap="butt"/>
<text x="669.9" y="1707.6" font-family="Liberation Serif" font-size="20.5" fill="#c00018" text-anchor="middle" font-weight="normal" textLength="67" lengthAdjust="spacing" stroke="#c00018" stroke-width="0.3">850 mm</text></svg></body></html>
